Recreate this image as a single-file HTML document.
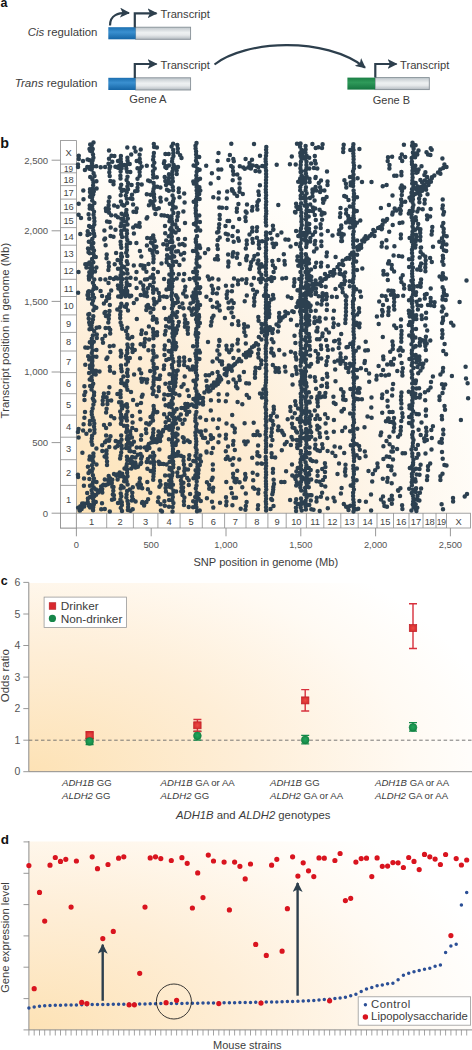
<!DOCTYPE html><html><head><meta charset="utf-8"><style>html,body{margin:0;padding:0;background:#fff;width:472px;height:1050px;overflow:hidden}svg{display:block}</style></head><body><svg width="472" height="1050" viewBox="0 0 472 1050" font-family="'Liberation Sans', sans-serif"><defs>
<linearGradient id="gbar" x1="0" y1="0" x2="0" y2="1"><stop offset="0" stop-color="#bfc6cb"/><stop offset="0.45" stop-color="#eef1f2"/><stop offset="0.65" stop-color="#e6e9eb"/><stop offset="1" stop-color="#b3bac0"/></linearGradient>
<linearGradient id="bbar" x1="0" y1="0" x2="0" y2="1"><stop offset="0" stop-color="#1c6fb0"/><stop offset="0.4" stop-color="#3a90d0"/><stop offset="1" stop-color="#1565a5"/></linearGradient>
<linearGradient id="grbar" x1="0" y1="0" x2="0" y2="1"><stop offset="0" stop-color="#1b7f45"/><stop offset="0.4" stop-color="#2f9a5a"/><stop offset="1" stop-color="#157540"/></linearGradient>
<radialGradient id="bgb" gradientUnits="userSpaceOnUse" cx="76" cy="513" r="430" gradientTransform="translate(76,513) scale(1,0.82) translate(-76,-513)"><stop offset="0" stop-color="#fde3b7"/><stop offset="0.4" stop-color="#fdebd1"/><stop offset="0.75" stop-color="#fef7ed"/><stop offset="1" stop-color="#fffefb"/></radialGradient>
<radialGradient id="bgc" gradientUnits="userSpaceOnUse" cx="29" cy="772" r="480" gradientTransform="translate(29,772) scale(1,0.56) translate(-29,-772)"><stop offset="0" stop-color="#fde2b5"/><stop offset="0.45" stop-color="#feeed7"/><stop offset="0.8" stop-color="#fffaf3"/><stop offset="1" stop-color="#ffffff"/></radialGradient>
<radialGradient id="bgd" gradientUnits="userSpaceOnUse" cx="29" cy="1030" r="480" gradientTransform="translate(29,1030) scale(1,0.56) translate(-29,-1030)"><stop offset="0" stop-color="#fde2b5"/><stop offset="0.45" stop-color="#feeed7"/><stop offset="0.8" stop-color="#fffaf3"/><stop offset="1" stop-color="#ffffff"/></radialGradient>
<marker id="ah" viewBox="0 0 10 10" refX="9" refY="5" markerWidth="10" markerHeight="10" markerUnits="userSpaceOnUse" orient="auto"><path d="M0,0 L10,5 L0,10 L2.5,5 z" fill="#2d3f4d"/></marker>
<marker id="ah2" viewBox="0 0 10 10" refX="9" refY="5" markerWidth="10" markerHeight="10" markerUnits="userSpaceOnUse" orient="auto"><path d="M0,0 L10,5 L0,10 L2.5,5 z" fill="#2d3f4d"/></marker>
<radialGradient id="rg" cx="0.5" cy="0.5" r="0.6"><stop offset="0" stop-color="#ec4a44"/><stop offset="1" stop-color="#d22a2c"/></radialGradient>
<radialGradient id="gg" cx="0.5" cy="0.45" r="0.6"><stop offset="0" stop-color="#22a45c"/><stop offset="1" stop-color="#128643"/></radialGradient>
</defs><rect width="472" height="1050" fill="#fff"/><text x="0.5" y="6.7" font-size="12.5" font-weight="bold" fill="#111">a</text><text x="97.4" y="35.6" font-size="11.4" text-anchor="end" fill="#3c3c3c"><tspan font-style="italic">Cis</tspan> regulation</text><text x="97.4" y="87" font-size="11.55" text-anchor="end" fill="#3c3c3c"><tspan font-style="italic">Trans</tspan> regulation</text><rect x="135.6" y="27.2" width="55.0" height="12.099999999999998" fill="url(#gbar)" stroke="#858f96" stroke-width="0.9"/><rect x="108.3" y="27.2" width="27.299999999999997" height="12.099999999999998" fill="url(#bbar)"/><rect x="135.6" y="77.8" width="55.0" height="12.200000000000003" fill="url(#gbar)" stroke="#858f96" stroke-width="0.9"/><rect x="108.3" y="77.8" width="27.299999999999997" height="12.200000000000003" fill="url(#bbar)"/><rect x="375.1" y="77.6" width="54.19999999999999" height="12.0" fill="url(#gbar)" stroke="#858f96" stroke-width="0.9"/><rect x="347.4" y="77.6" width="27.700000000000045" height="12.0" fill="url(#grbar)"/><path d="M110,25.5 C110,15 118,12.5 129,13" fill="none" stroke="#2d3f4d" stroke-width="2.2" marker-end="url(#ah)"/><path d="M134.8,27.5 V13.3 H156.5" fill="none" stroke="#2d3f4d" stroke-width="2.2" marker-end="url(#ah)"/><path d="M134.8,78 V64 H156.5" fill="none" stroke="#2d3f4d" stroke-width="2.2" marker-end="url(#ah)"/><path d="M375.3,77.6 V64 H396.5" fill="none" stroke="#2d3f4d" stroke-width="2.2" marker-end="url(#ah)"/><path d="M214.5,64.5 C245,40.5 325,36 365,67.6" fill="none" stroke="#2d3f4d" stroke-width="2.2" marker-end="url(#ah)"/><text x="160.5" y="18.1" font-size="11.2" fill="#3c3c3c">Transcript</text><text x="160.5" y="69.2" font-size="11.2" fill="#3c3c3c">Transcript</text><text x="400" y="69.2" font-size="11.2" fill="#3c3c3c">Transcript</text><text x="147.9" y="103" font-size="11.2" text-anchor="middle" fill="#3c3c3c">Gene A</text><text x="391.4" y="103.8" font-size="11" text-anchor="middle" fill="#3c3c3c">Gene B</text><text x="0.3" y="147.5" font-size="14.3" font-weight="bold" fill="#111">b</text><rect x="76.4" y="140.6" width="394.1" height="372.6" fill="url(#bgb)"/><rect x="60.5" y="140.6" width="15.9" height="387.4" fill="#fff" stroke="#8c8c8c" stroke-width="0.8"/><rect x="60.5" y="513.2" width="410" height="14.8" fill="#fff" stroke="#8c8c8c" stroke-width="0.8"/><line x1="60.5" x2="76.4" y1="485.4" y2="485.4" stroke="#8c8c8c" stroke-width="0.8"/><line x1="60.5" x2="76.4" y1="459.7" y2="459.7" stroke="#8c8c8c" stroke-width="0.8"/><line x1="60.5" x2="76.4" y1="437.2" y2="437.2" stroke="#8c8c8c" stroke-width="0.8"/><line x1="60.5" x2="76.4" y1="415.2" y2="415.2" stroke="#8c8c8c" stroke-width="0.8"/><line x1="60.5" x2="76.4" y1="393.7" y2="393.7" stroke="#8c8c8c" stroke-width="0.8"/><line x1="60.5" x2="76.4" y1="372.6" y2="372.6" stroke="#8c8c8c" stroke-width="0.8"/><line x1="60.5" x2="76.4" y1="351.0" y2="351.0" stroke="#8c8c8c" stroke-width="0.8"/><line x1="60.5" x2="76.4" y1="332.4" y2="332.4" stroke="#8c8c8c" stroke-width="0.8"/><line x1="60.5" x2="76.4" y1="314.9" y2="314.9" stroke="#8c8c8c" stroke-width="0.8"/><line x1="60.5" x2="76.4" y1="296.5" y2="296.5" stroke="#8c8c8c" stroke-width="0.8"/><line x1="60.5" x2="76.4" y1="279.3" y2="279.3" stroke="#8c8c8c" stroke-width="0.8"/><line x1="60.5" x2="76.4" y1="262.2" y2="262.2" stroke="#8c8c8c" stroke-width="0.8"/><line x1="60.5" x2="76.4" y1="245.2" y2="245.2" stroke="#8c8c8c" stroke-width="0.8"/><line x1="60.5" x2="76.4" y1="227.6" y2="227.6" stroke="#8c8c8c" stroke-width="0.8"/><line x1="60.5" x2="76.4" y1="212.9" y2="212.9" stroke="#8c8c8c" stroke-width="0.8"/><line x1="60.5" x2="76.4" y1="199.1" y2="199.1" stroke="#8c8c8c" stroke-width="0.8"/><line x1="60.5" x2="76.4" y1="185.6" y2="185.6" stroke="#8c8c8c" stroke-width="0.8"/><line x1="60.5" x2="76.4" y1="172.8" y2="172.8" stroke="#8c8c8c" stroke-width="0.8"/><line x1="60.5" x2="76.4" y1="164.1" y2="164.1" stroke="#8c8c8c" stroke-width="0.8"/><line x1="106.7" x2="106.7" y1="513.2" y2="528" stroke="#8c8c8c" stroke-width="0.8"/><line x1="133.4" x2="133.4" y1="513.2" y2="528" stroke="#8c8c8c" stroke-width="0.8"/><line x1="157.9" x2="157.9" y1="513.2" y2="528" stroke="#8c8c8c" stroke-width="0.8"/><line x1="180.1" x2="180.1" y1="513.2" y2="528" stroke="#8c8c8c" stroke-width="0.8"/><line x1="202.3" x2="202.3" y1="513.2" y2="528" stroke="#8c8c8c" stroke-width="0.8"/><line x1="224.6" x2="224.6" y1="513.2" y2="528" stroke="#8c8c8c" stroke-width="0.8"/><line x1="246" x2="246" y1="513.2" y2="528" stroke="#8c8c8c" stroke-width="0.8"/><line x1="267.9" x2="267.9" y1="513.2" y2="528" stroke="#8c8c8c" stroke-width="0.8"/><line x1="286.2" x2="286.2" y1="513.2" y2="528" stroke="#8c8c8c" stroke-width="0.8"/><line x1="306.4" x2="306.4" y1="513.2" y2="528" stroke="#8c8c8c" stroke-width="0.8"/><line x1="323.8" x2="323.8" y1="513.2" y2="528" stroke="#8c8c8c" stroke-width="0.8"/><line x1="340.8" x2="340.8" y1="513.2" y2="528" stroke="#8c8c8c" stroke-width="0.8"/><line x1="358.2" x2="358.2" y1="513.2" y2="528" stroke="#8c8c8c" stroke-width="0.8"/><line x1="377" x2="377" y1="513.2" y2="528" stroke="#8c8c8c" stroke-width="0.8"/><line x1="393.5" x2="393.5" y1="513.2" y2="528" stroke="#8c8c8c" stroke-width="0.8"/><line x1="409" x2="409" y1="513.2" y2="528" stroke="#8c8c8c" stroke-width="0.8"/><line x1="423" x2="423" y1="513.2" y2="528" stroke="#8c8c8c" stroke-width="0.8"/><line x1="436" x2="436" y1="513.2" y2="528" stroke="#8c8c8c" stroke-width="0.8"/><line x1="446.5" x2="446.5" y1="513.2" y2="528" stroke="#8c8c8c" stroke-width="0.8"/><text x="68.6" y="502.9" font-size="9.3" text-anchor="middle" fill="#444">1</text><text x="91.6" y="524.6" font-size="9.3" text-anchor="middle" fill="#444" >1</text><text x="68.6" y="476.1" font-size="9.3" text-anchor="middle" fill="#444">2</text><text x="120.1" y="524.6" font-size="9.3" text-anchor="middle" fill="#444" >2</text><text x="68.6" y="452.1" font-size="9.3" text-anchor="middle" fill="#444">3</text><text x="145.7" y="524.6" font-size="9.3" text-anchor="middle" fill="#444" >3</text><text x="68.6" y="429.8" font-size="9.3" text-anchor="middle" fill="#444">4</text><text x="169.0" y="524.6" font-size="9.3" text-anchor="middle" fill="#444" >4</text><text x="68.6" y="408.1" font-size="9.3" text-anchor="middle" fill="#444">5</text><text x="191.2" y="524.6" font-size="9.3" text-anchor="middle" fill="#444" >5</text><text x="68.6" y="386.8" font-size="9.3" text-anchor="middle" fill="#444">6</text><text x="213.4" y="524.6" font-size="9.3" text-anchor="middle" fill="#444" >6</text><text x="68.6" y="365.4" font-size="9.3" text-anchor="middle" fill="#444">7</text><text x="235.3" y="524.6" font-size="9.3" text-anchor="middle" fill="#444" >7</text><text x="68.6" y="345.3" font-size="9.3" text-anchor="middle" fill="#444">8</text><text x="256.9" y="524.6" font-size="9.3" text-anchor="middle" fill="#444" >8</text><text x="68.6" y="327.2" font-size="9.3" text-anchor="middle" fill="#444">9</text><text x="277.0" y="524.6" font-size="9.3" text-anchor="middle" fill="#444" >9</text><text x="68.6" y="309.3" font-size="9.3" text-anchor="middle" fill="#444">10</text><text x="296.3" y="524.6" font-size="9.3" text-anchor="middle" fill="#444" >10</text><text x="68.6" y="291.5" font-size="9.3" text-anchor="middle" fill="#444">11</text><text x="315.1" y="524.6" font-size="9.3" text-anchor="middle" fill="#444" >11</text><text x="68.6" y="274.4" font-size="9.3" text-anchor="middle" fill="#444">12</text><text x="332.3" y="524.6" font-size="9.3" text-anchor="middle" fill="#444" >12</text><text x="68.6" y="257.3" font-size="9.3" text-anchor="middle" fill="#444">13</text><text x="349.5" y="524.6" font-size="9.3" text-anchor="middle" fill="#444" >13</text><text x="68.6" y="240.0" font-size="9.3" text-anchor="middle" fill="#444">14</text><text x="367.6" y="524.6" font-size="9.3" text-anchor="middle" fill="#444" >14</text><text x="68.6" y="223.8" font-size="9.3" text-anchor="middle" fill="#444">15</text><text x="385.2" y="524.6" font-size="9.3" text-anchor="middle" fill="#444" >15</text><text x="68.6" y="209.6" font-size="9.3" text-anchor="middle" fill="#444">16</text><text x="401.2" y="524.6" font-size="9.3" text-anchor="middle" fill="#444" >16</text><text x="68.6" y="195.9" font-size="9.3" text-anchor="middle" fill="#444">17</text><text x="416.0" y="524.6" font-size="9.3" text-anchor="middle" fill="#444" >17</text><text x="68.6" y="182.8" font-size="9.3" text-anchor="middle" fill="#444">18</text><text x="429.5" y="524.6" font-size="9.3" text-anchor="middle" fill="#444" letter-spacing="-0.4">18</text><text x="68.6" y="172.0" font-size="8.2" text-anchor="middle" fill="#444">19</text><text x="441.2" y="524.6" font-size="8.6" text-anchor="middle" fill="#444" letter-spacing="-0.4">19</text><text x="68.6" y="155.9" font-size="9.3" text-anchor="middle" fill="#444">X</text><text x="458.5" y="524.6" font-size="9.3" text-anchor="middle" fill="#444" >X</text><line x1="51.6" x2="60.5" y1="513.2" y2="513.2" stroke="#8c8c8c" stroke-width="0.9"/><text x="48.2" y="516.5" font-size="9.6" text-anchor="end" fill="#555">0</text><line x1="76.4" x2="76.4" y1="528" y2="536.3" stroke="#8c8c8c" stroke-width="0.9"/><text x="76.4" y="547.6" font-size="9.3" text-anchor="middle" fill="#555">0</text><line x1="51.6" x2="60.5" y1="442.6" y2="442.6" stroke="#8c8c8c" stroke-width="0.9"/><text x="48.2" y="445.9" font-size="9.6" text-anchor="end" fill="#555">500</text><line x1="151.2" x2="151.2" y1="528" y2="536.3" stroke="#8c8c8c" stroke-width="0.9"/><text x="151.2" y="547.6" font-size="9.3" text-anchor="middle" fill="#555">500</text><line x1="51.6" x2="60.5" y1="372.0" y2="372.0" stroke="#8c8c8c" stroke-width="0.9"/><text x="48.2" y="375.3" font-size="9.6" text-anchor="end" fill="#555">1,000</text><line x1="226.0" x2="226.0" y1="528" y2="536.3" stroke="#8c8c8c" stroke-width="0.9"/><text x="226.0" y="547.6" font-size="9.3" text-anchor="middle" fill="#555">1,000</text><line x1="51.6" x2="60.5" y1="301.4" y2="301.4" stroke="#8c8c8c" stroke-width="0.9"/><text x="48.2" y="304.7" font-size="9.6" text-anchor="end" fill="#555">1,500</text><line x1="300.8" x2="300.8" y1="528" y2="536.3" stroke="#8c8c8c" stroke-width="0.9"/><text x="300.8" y="547.6" font-size="9.3" text-anchor="middle" fill="#555">1,500</text><line x1="51.6" x2="60.5" y1="230.8" y2="230.8" stroke="#8c8c8c" stroke-width="0.9"/><text x="48.2" y="234.1" font-size="9.6" text-anchor="end" fill="#555">2,000</text><line x1="375.6" x2="375.6" y1="528" y2="536.3" stroke="#8c8c8c" stroke-width="0.9"/><text x="375.6" y="547.6" font-size="9.3" text-anchor="middle" fill="#555">2,000</text><line x1="51.6" x2="60.5" y1="160.2" y2="160.2" stroke="#8c8c8c" stroke-width="0.9"/><text x="48.2" y="163.5" font-size="9.6" text-anchor="end" fill="#555">2,500</text><line x1="450.4" x2="450.4" y1="528" y2="536.3" stroke="#8c8c8c" stroke-width="0.9"/><text x="450.4" y="547.6" font-size="9.3" text-anchor="middle" fill="#555">2,500</text><line x1="76.4" x2="76.4" y1="513.2" y2="528" stroke="#8c8c8c" stroke-width="0.9"/><text x="265.8" y="566" font-size="11.1" text-anchor="middle" fill="#3c3c3c">SNP position in genome (Mb)</text><text transform="translate(9.3,330.6) rotate(-90)" font-size="11.4" text-anchor="middle" fill="#3c3c3c">Transcript position in genome (Mb)</text><path d="M78.8 155.8h0M78.8 159.0h0M78.0 164.6h0M78.7 203.7h0M78.6 214.8h0M81.0 217.9h0M78.5 272.1h0M78.1 292.7h0M78.6 429.0h0M77.9 431.9h0M78.6 437.4h0M77.9 474.7h0M78.1 477.1h0M83.0 161.0h0M84.9 169.9h0M83.3 190.5h0M83.5 199.3h0M85.3 264.2h0M85.3 364.8h0M84.4 386.2h0M85.3 391.9h0M84.3 395.1h0M85.0 411.9h0M84.4 417.8h0M83.6 424.2h0M83.1 430.4h0M82.4 452.8h0M84.0 478.6h0M83.9 485.7h0M83.6 503.6h0M87.6 159.6h0M89.7 167.0h0M90.0 189.3h0M90.4 193.0h0M90.0 196.7h0M88.6 214.2h0M89.1 225.9h0M87.7 231.2h0M87.5 234.9h0M88.8 241.7h0M91.7 244.9h0M91.3 248.6h0M88.0 248.5h0M88.5 252.2h0M87.9 263.7h0M90.3 267.9h0M86.4 267.4h0M89.3 272.2h0M88.8 275.9h0M89.1 279.6h0M88.9 291.3h0M88.1 291.9h0M87.5 295.1h0M88.4 294.9h0M88.1 298.6h0M88.3 314.4h0M88.7 318.6h0M89.2 322.6h0M89.5 329.2h0M87.8 347.7h0M85.3 347.6h0M88.2 356.2h0M91.8 356.9h0M92.3 357.5h0M92.3 361.2h0M92.3 364.9h0M89.4 459.6h0M92.3 460.2h0M87.9 466.7h0M88.5 473.1h0M90.0 485.8h0M87.2 493.1h0M87.9 498.4h0M87.7 502.1h0M93.5 142.6h0M90.2 144.5h0M91.7 145.4h0M89.5 149.0h0M92.7 148.9h0M90.2 150.8h0M91.9 151.6h0M93.0 154.4h0M93.4 157.7h0M89.8 160.3h0M92.6 160.6h0M92.0 163.4h0M96.2 166.2h0M92.7 166.4h0M89.4 168.7h0M91.7 169.6h0M93.6 173.2h0M90.2 176.9h0M94.5 175.9h0M92.4 179.2h0M96.4 181.3h0M93.4 182.3h0M93.1 185.3h0M96.6 188.5h0M92.9 188.6h0M90.0 191.9h0M93.8 191.4h0M93.2 194.4h0M92.1 197.3h0M92.2 200.4h0M94.4 203.0h0M89.7 205.5h0M92.2 206.0h0M89.7 208.6h0M92.4 209.0h0M94.0 211.8h0M93.5 214.7h0M89.3 218.8h0M94.2 218.0h0M94.4 221.2h0M94.3 224.5h0M90.3 227.1h0M93.0 227.1h0M93.2 230.4h0M89.7 234.0h0M93.9 233.4h0M94.4 236.1h0M92.3 239.0h0M89.4 241.8h0M93.3 242.9h0M92.7 247.6h0M94.0 250.4h0M89.7 253.2h0M93.3 253.4h0M95.8 256.9h0M94.2 256.1h0M92.1 259.0h0M89.4 262.4h0M93.3 262.2h0M90.0 264.1h0M91.7 265.0h0M96.4 267.6h0M92.2 268.1h0M91.9 270.9h0M89.9 273.0h0M91.8 273.8h0M91.6 276.6h0M94.3 279.6h0M92.9 282.7h0M94.1 285.7h0M96.3 288.2h0M93.5 288.9h0M91.9 291.6h0M92.9 294.6h0M89.3 298.6h0M94.1 297.8h0M93.0 300.8h0M92.1 303.8h0M96.3 307.8h0M94.5 306.8h0M93.4 310.2h0M89.3 313.9h0M93.3 316.2h0M92.9 319.4h0M92.1 322.5h0M89.7 324.5h0M91.5 325.5h0M96.6 327.8h0M91.7 328.7h0M94.2 331.3h0M96.8 334.5h0M92.8 335.4h0M96.8 337.9h0M91.8 338.7h0M89.8 342.2h0M93.8 341.7h0M91.9 344.5h0M91.7 347.1h0M96.4 349.9h0M92.6 350.2h0M91.8 353.0h0M96.4 356.7h0M93.1 356.6h0M89.2 359.4h0M92.2 359.9h0M91.9 363.0h0M90.0 365.5h0M92.5 365.8h0M89.9 368.1h0M92.1 368.7h0M95.9 370.8h0M91.9 371.5h0M95.7 374.5h0M93.6 374.1h0M91.5 377.2h0M89.7 379.5h0M91.9 380.2h0M93.2 383.8h0M90.1 385.9h0M92.1 386.6h0M91.5 389.5h0M94.1 392.5h0M94.0 395.3h0M92.8 398.4h0M94.4 401.3h0M93.4 404.5h0M92.6 408.4h0M91.7 411.7h0M91.8 414.6h0M92.6 417.5h0M89.9 420.9h0M93.7 420.5h0M89.8 424.3h0M94.3 423.4h0M94.0 426.5h0M89.9 430.4h0M94.4 429.4h0M94.4 432.8h0M92.1 435.7h0M91.8 438.6h0M91.5 441.8h0M92.3 444.7h0M96.4 448.6h0M93.4 453.4h0M89.8 456.6h0M93.4 456.3h0M92.5 459.1h0M93.3 462.1h0M96.5 464.5h0M92.0 465.2h0M92.7 468.8h0M89.8 471.0h0M91.8 471.8h0M92.9 475.2h0M89.4 479.0h0M93.9 478.4h0M96.5 482.0h0M93.1 481.9h0M92.3 484.6h0M93.7 487.5h0M96.0 489.4h0M91.6 490.3h0M92.3 493.2h0M90.1 496.9h0M94.4 496.0h0M93.1 498.9h0M95.8 502.0h0M93.4 501.7h0M90.0 505.0h0M93.8 504.5h0M90.1 507.4h0M93.2 507.2h0M93.1 510.3h0M101.6 490.9h0M102.0 503.2h0M101.2 509.2h0M107.0 208.4h0M105.8 208.4h0M106.1 211.1h0M107.0 221.5h0M104.4 230.5h0M105.1 238.4h0M104.3 239.6h0M105.6 245.3h0M106.7 254.6h0M106.5 258.3h0M107.1 296.9h0M106.2 300.8h0M103.9 303.6h0M105.3 311.9h0M104.5 313.0h0M105.9 316.0h0M105.6 327.9h0M109.0 328.0h0M105.2 335.8h0M102.4 339.0h0M103.0 342.7h0M106.4 358.9h0M103.9 393.4h0M106.6 397.2h0M103.2 396.9h0M102.7 400.6h0M102.7 404.3h0M106.6 408.8h0M106.1 412.5h0M104.0 424.9h0M106.1 428.1h0M106.1 435.4h0M105.0 442.2h0M102.2 445.3h0M106.4 451.3h0M102.3 451.0h0M106.1 451.0h0M104.6 456.4h0M107.0 465.0h0M104.8 479.4h0M108.1 480.1h0M108.7 483.8h0M104.8 508.9h0M109.0 150.6h0M111.5 155.8h0M109.0 158.7h0M108.5 163.8h0M109.5 168.5h0M109.3 172.2h0M109.7 176.1h0M110.4 181.1h0M113.5 181.4h0M113.5 184.2h0M109.5 197.3h0M108.7 201.6h0M108.6 205.3h0M108.8 209.0h0M109.1 212.7h0M111.2 215.2h0M110.7 227.5h0M110.5 236.0h0M113.5 236.8h0M108.7 262.7h0M108.9 266.4h0M108.4 270.1h0M108.5 283.1h0M111.2 290.4h0M109.1 294.4h0M109.1 298.1h0M109.8 305.1h0M109.5 310.9h0M109.0 315.1h0M108.8 318.8h0M108.3 322.5h0M110.2 329.7h0M110.2 333.4h0M109.7 346.2h0M110.3 352.0h0M109.8 367.0h0M110.0 370.7h0M109.4 387.3h0M108.4 393.0h0M111.2 400.5h0M107.6 400.4h0M107.4 404.1h0M111.1 416.2h0M109.8 424.3h0M110.5 436.3h0M109.4 439.3h0M109.0 440.7h0M106.5 440.6h0M109.3 447.1h0M106.5 450.4h0M106.5 454.1h0M106.5 457.8h0M107.0 461.5h0M108.7 476.1h0M108.9 479.8h0M111.8 483.0h0M112.3 486.7h0M113.5 487.1h0M113.3 490.8h0M112.8 494.5h0M109.8 511.4h0M114.4 156.1h0M114.1 205.6h0M115.6 215.4h0M115.5 229.8h0M116.1 252.9h0M114.7 264.2h0M116.0 277.5h0M113.6 345.8h0M114.1 372.7h0M114.3 418.2h0M115.7 441.1h0M115.3 447.6h0M113.9 495.3h0M114.1 499.0h0M120.9 155.9h0M120.7 159.0h0M118.0 160.9h0M121.0 161.9h0M120.7 164.6h0M118.1 167.8h0M121.6 168.2h0M120.6 171.6h0M120.4 175.7h0M120.5 178.5h0M121.2 184.8h0M120.4 188.0h0M121.7 191.1h0M120.7 195.3h0M120.9 201.6h0M124.2 205.4h0M122.0 204.6h0M117.7 206.7h0M121.6 213.7h0M117.9 217.3h0M121.3 218.7h0M121.4 223.2h0M124.4 225.9h0M120.6 226.3h0M124.2 229.5h0M121.3 230.9h0M121.3 234.2h0M122.1 236.9h0M120.6 241.8h0M120.8 244.8h0M121.3 247.8h0M121.3 253.7h0M121.9 256.8h0M117.6 259.9h0M121.0 259.9h0M120.8 263.1h0M124.2 266.9h0M121.9 266.1h0M118.0 268.8h0M120.8 269.0h0M121.4 272.0h0M120.6 275.2h0M120.4 278.4h0M121.2 282.3h0M117.9 285.6h0M121.5 285.2h0M118.4 288.6h0M121.4 288.1h0M124.5 291.1h0M120.9 291.2h0M124.3 294.6h0M121.5 294.2h0M120.9 297.1h0M121.3 303.8h0M124.7 306.6h0M120.3 307.1h0M117.3 309.5h0M120.5 311.5h0M120.2 314.8h0M120.2 318.0h0M120.6 322.5h0M121.6 325.6h0M122.2 328.7h0M120.7 350.7h0M121.4 353.4h0M120.8 356.4h0M121.0 365.6h0M121.2 368.5h0M121.7 371.2h0M121.3 380.0h0M121.2 383.0h0M124.6 385.3h0M120.6 391.0h0M117.4 393.9h0M120.5 394.3h0M120.6 397.3h0M121.5 402.3h0M124.6 405.6h0M121.6 405.8h0M122.1 408.5h0M120.2 411.6h0M121.1 414.7h0M124.6 417.6h0M120.6 418.0h0M121.5 420.7h0M120.9 423.7h0M123.9 425.8h0M121.2 435.6h0M121.5 439.8h0M118.0 442.0h0M120.3 442.6h0M117.6 446.1h0M121.6 445.7h0M121.8 448.5h0M121.2 452.5h0M120.6 455.7h0M120.1 458.5h0M121.4 485.8h0M120.7 488.4h0M120.7 493.4h0M121.3 496.2h0M120.4 499.4h0M118.0 502.9h0M121.8 502.2h0M121.9 505.1h0M120.8 507.9h0M122.0 510.9h0M127.3 147.6h0M127.4 157.7h0M127.5 160.6h0M129.7 164.0h0M127.9 163.2h0M124.3 165.1h0M126.0 165.9h0M126.4 168.7h0M130.3 171.9h0M127.2 171.7h0M127.5 176.7h0M126.6 180.1h0M128.0 183.1h0M127.4 186.5h0M123.9 190.1h0M128.0 189.3h0M126.8 192.1h0M125.8 195.4h0M130.7 198.6h0M126.8 198.7h0M127.1 202.9h0M123.5 205.4h0M126.4 210.1h0M126.1 212.7h0M124.4 215.3h0M126.9 215.3h0M123.3 219.3h0M127.8 218.6h0M123.4 221.1h0M126.1 221.8h0M127.5 224.6h0M126.8 230.5h0M127.0 233.6h0M126.4 236.9h0M127.3 239.9h0M130.1 243.1h0M126.9 244.2h0M126.7 247.1h0M126.9 249.9h0M126.2 252.7h0M127.3 256.1h0M126.8 261.2h0M127.6 264.1h0M124.1 267.2h0M126.9 269.7h0M123.5 273.6h0M127.5 273.5h0M126.7 282.5h0M129.6 284.9h0M126.8 285.1h0M126.0 287.8h0M127.2 291.0h0M127.5 294.2h0M129.7 296.4h0M126.8 304.3h0M125.9 307.1h0M128.0 310.5h0M127.4 327.8h0M126.0 331.0h0M127.4 334.7h0M127.5 337.8h0M127.4 344.5h0M127.9 347.2h0M127.1 350.2h0M127.3 353.0h0M126.0 355.9h0M129.8 358.1h0M126.4 358.6h0M127.9 361.6h0M126.0 364.4h0M127.6 369.8h0M127.1 372.7h0M123.4 376.5h0M127.7 375.9h0M127.3 381.0h0M123.7 383.4h0M126.2 384.0h0M126.5 386.8h0M127.4 389.8h0M126.8 404.3h0M127.2 407.1h0M127.5 411.6h0M126.2 414.7h0M126.5 417.4h0M126.9 420.6h0M127.2 425.9h0M127.0 429.1h0M130.2 431.5h0M126.3 432.1h0M130.3 434.3h0M127.4 436.2h0M126.8 439.1h0M130.4 443.2h0M128.1 442.2h0M126.5 445.1h0M126.1 448.1h0M130.6 451.2h0M126.9 456.8h0M130.1 459.2h0M127.2 460.0h0M126.9 464.1h0M126.4 467.0h0M127.2 469.7h0M127.1 472.8h0M123.2 476.6h0M127.5 476.2h0M124.4 478.1h0M126.2 478.8h0M124.1 481.2h0M126.6 481.6h0M127.6 484.5h0M123.6 487.6h0M127.1 491.1h0M126.6 494.4h0M126.4 497.6h0M127.5 501.0h0M128.1 503.9h0M128.1 506.9h0M130.5 510.7h0M127.9 510.0h0M131.2 154.4h0M131.6 184.9h0M132.0 194.8h0M132.4 198.9h0M133.1 204.6h0M133.5 211.8h0M133.2 227.6h0M133.9 233.6h0M133.8 265.6h0M133.8 303.1h0M132.3 337.1h0M132.4 344.7h0M132.1 348.4h0M132.6 352.1h0M133.1 400.0h0M132.2 416.1h0M132.6 422.4h0M132.3 427.9h0M131.9 437.6h0M133.9 441.8h0M132.0 444.4h0M129.4 447.4h0M129.5 451.1h0M132.2 457.1h0M132.5 462.7h0M133.1 465.7h0M135.5 467.5h0M131.3 468.5h0M132.8 487.3h0M129.8 489.6h0M132.3 492.8h0M132.1 496.4h0M133.1 499.4h0M135.6 501.6h0M132.7 509.2h0M134.4 147.7h0M135.6 151.5h0M136.7 161.1h0M135.1 191.2h0M136.7 208.4h0M136.1 212.1h0M136.4 243.1h0M136.5 272.0h0M136.6 288.0h0M136.7 299.3h0M134.8 350.0h0M137.1 404.7h0M136.1 430.1h0M136.7 447.4h0M135.2 462.4h0M140.7 149.6h0M139.6 154.8h0M139.7 158.9h0M140.2 162.6h0M141.7 166.6h0M140.2 168.2h0M137.5 168.2h0M139.6 172.0h0M139.7 175.7h0M137.5 178.7h0M141.7 184.6h0M137.8 184.1h0M137.5 187.8h0M137.5 190.7h0M139.5 223.1h0M139.7 226.8h0M137.5 226.2h0M139.9 250.9h0M141.3 256.5h0M142.3 265.6h0M144.5 266.0h0M140.6 265.3h0M143.4 268.5h0M144.5 268.6h0M140.5 282.4h0M143.3 285.5h0M143.5 289.2h0M144.5 291.9h0M144.3 295.6h0M141.8 330.4h0M141.3 334.1h0M140.6 344.3h0M140.1 358.2h0M139.5 369.6h0M141.2 373.3h0M141.2 378.7h0M141.8 381.7h0M141.8 396.7h0M141.0 403.0h0M139.9 411.8h0M140.5 419.3h0M141.3 435.3h0M141.0 439.7h0M140.5 447.6h0M141.9 456.4h0M141.2 462.7h0M140.4 463.9h0M137.9 466.8h0M139.9 478.5h0M139.5 482.2h0M137.5 484.7h0M140.9 484.8h0M138.7 487.4h0M142.2 488.2h0M142.4 501.9h0M142.0 502.9h0M144.1 505.5h0M148.9 205.2h0M146.6 218.4h0M147.2 237.9h0M146.9 245.5h0M148.5 263.9h0M146.4 271.8h0M147.1 279.3h0M147.9 288.2h0M146.5 292.3h0M147.0 296.3h0M148.0 305.0h0M146.6 306.3h0M146.3 310.0h0M148.9 326.4h0M146.0 333.2h0M149.1 339.6h0M145.0 338.9h0M144.6 342.6h0M144.1 346.3h0M147.2 379.5h0M144.0 379.3h0M146.7 382.4h0M146.2 423.2h0M149.0 424.5h0M145.9 429.3h0M146.3 433.0h0M147.8 458.9h0M146.7 462.1h0M147.4 468.7h0M150.7 470.9h0M147.3 482.0h0M147.9 489.2h0M150.3 492.7h0M148.1 499.2h0M146.4 502.0h0M144.1 504.1h0M153.8 143.9h0M156.9 147.5h0M154.1 146.9h0M153.9 152.9h0M153.5 156.6h0M153.1 159.7h0M154.3 162.7h0M153.0 165.8h0M154.7 168.4h0M153.0 171.2h0M153.1 174.4h0M156.8 177.2h0M153.3 177.4h0M150.0 181.3h0M153.6 182.9h0M157.2 186.8h0M154.3 186.2h0M153.6 188.9h0M153.2 191.6h0M150.6 194.7h0M154.0 194.3h0M154.1 197.6h0M150.4 201.3h0M154.5 200.5h0M152.7 203.2h0M153.5 205.8h0M156.2 209.2h0M154.3 208.5h0M153.2 235.5h0M150.8 238.2h0M153.5 238.2h0M154.7 241.0h0M150.9 242.6h0M152.3 243.6h0M156.3 246.7h0M154.0 246.3h0M150.0 249.8h0M154.0 249.7h0M157.1 252.2h0M152.6 253.0h0M153.4 255.9h0M153.6 259.0h0M153.3 262.2h0M153.5 269.1h0M152.9 274.8h0M150.4 277.4h0M153.3 278.3h0M153.7 282.2h0M150.0 284.9h0M152.9 287.0h0M156.6 289.6h0M153.1 289.9h0M153.2 292.8h0M153.7 298.8h0M156.5 302.4h0M154.4 301.6h0M154.3 304.4h0M149.9 307.8h0M153.4 308.9h0M150.6 312.4h0M153.2 316.8h0M156.4 319.2h0M153.1 319.5h0M156.9 322.6h0M153.0 329.1h0M157.1 332.2h0M153.3 332.3h0M157.0 335.3h0M153.4 335.5h0M153.4 338.2h0M153.5 346.0h0M153.0 350.6h0M153.5 353.3h0M156.6 356.5h0M153.7 357.4h0M152.5 360.6h0M153.6 364.0h0M156.9 368.0h0M153.7 367.3h0M150.2 370.9h0M154.2 370.3h0M154.5 373.1h0M153.6 376.4h0M153.9 379.2h0M153.5 381.9h0M153.6 385.0h0M152.3 388.1h0M153.6 391.0h0M152.8 393.9h0M156.6 396.3h0M153.6 406.0h0M154.0 409.3h0M156.8 412.3h0M153.5 412.4h0M152.7 415.0h0M150.5 416.9h0M152.4 417.9h0M153.0 420.6h0M150.5 422.7h0M153.4 429.3h0M153.2 432.8h0M152.9 435.7h0M156.8 439.2h0M153.4 439.1h0M156.7 442.2h0M153.7 442.0h0M153.1 452.8h0M150.3 456.4h0M154.3 455.7h0M153.3 459.1h0M150.4 462.6h0M154.3 461.9h0M153.9 465.0h0M153.9 468.2h0M153.9 470.9h0M153.6 473.7h0M153.4 476.6h0M153.2 479.7h0M160.4 197.7h0M160.8 201.4h0M158.8 208.2h0M161.5 215.2h0M161.5 263.4h0M158.8 293.0h0M159.4 300.0h0M160.1 375.4h0M157.2 378.7h0M159.6 379.1h0M158.8 387.3h0M158.8 391.0h0M161.4 435.7h0M160.2 441.0h0M159.4 449.5h0M158.7 461.7h0M159.3 464.0h0M161.1 463.7h0M163.5 464.1h0M160.1 481.1h0M160.6 484.8h0M158.5 497.4h0M160.6 504.2h0M160.9 510.5h0M165.4 153.9h0M163.9 163.2h0M166.5 166.2h0M164.7 177.1h0M165.3 181.1h0M166.0 184.9h0M167.0 189.8h0M166.4 199.5h0M164.2 215.4h0M167.5 215.9h0M165.0 225.9h0M165.2 233.3h0M166.2 240.6h0M167.0 245.1h0M167.0 249.2h0M167.1 255.3h0M166.8 259.0h0M166.6 262.3h0M169.0 265.1h0M166.5 289.4h0M166.8 296.9h0M164.2 308.0h0M165.8 319.1h0M166.1 326.3h0M165.6 330.9h0M164.9 334.6h0M164.8 345.6h0M164.5 349.3h0M164.5 355.1h0M166.3 360.1h0M164.1 365.4h0M163.8 369.1h0M165.4 383.7h0M164.3 394.5h0M168.1 395.0h0M164.1 399.3h0M165.6 405.3h0M164.1 414.2h0M167.1 417.5h0M165.6 422.3h0M165.8 426.8h0M163.2 429.9h0M166.6 464.4h0M165.1 475.5h0M165.8 484.2h0M165.6 487.9h0M165.9 491.6h0M164.4 501.2h0M164.8 505.8h0M162.0 511.5h0M173.1 143.7h0M171.6 146.6h0M173.2 150.0h0M168.7 153.9h0M173.3 153.3h0M173.4 156.0h0M172.4 158.7h0M172.0 161.5h0M173.5 164.8h0M176.1 169.0h0M173.0 168.3h0M172.4 171.5h0M169.0 174.3h0M172.1 174.6h0M168.7 178.0h0M172.5 177.9h0M168.8 181.5h0M172.8 181.2h0M169.8 183.2h0M171.6 183.9h0M172.8 187.0h0M168.8 190.7h0M173.1 190.3h0M172.5 195.6h0M173.7 198.5h0M173.0 201.2h0M169.8 203.8h0M172.4 203.9h0M175.7 207.4h0M173.2 206.8h0M172.3 209.8h0M173.4 213.0h0M171.5 216.2h0M169.9 218.1h0M171.6 218.8h0M169.4 221.3h0M172.0 221.7h0M175.3 224.4h0M172.4 224.4h0M171.3 227.7h0M172.8 230.6h0M175.6 232.6h0M171.4 233.5h0M168.7 236.2h0M171.8 236.8h0M171.6 239.4h0M169.8 241.9h0M172.3 242.0h0M172.1 246.7h0M169.8 248.8h0M171.8 249.3h0M176.0 251.6h0M171.4 252.5h0M172.7 255.6h0M169.6 257.4h0M171.3 258.3h0M176.2 261.8h0M172.7 261.6h0M172.9 265.2h0M171.3 268.1h0M171.7 270.8h0M169.4 274.5h0M173.0 273.7h0M171.6 276.9h0M169.1 280.6h0M173.2 280.0h0M168.9 282.5h0M172.0 283.3h0M169.0 286.3h0M172.3 286.4h0M169.1 288.7h0M171.5 289.5h0M172.0 293.0h0M175.9 295.2h0M171.3 296.1h0M172.0 299.4h0M175.9 302.9h0M173.0 302.5h0M173.1 305.7h0M171.9 308.6h0M172.8 312.4h0M171.8 315.6h0M169.7 317.6h0M171.6 318.3h0M169.0 321.4h0M172.5 321.4h0M172.6 324.4h0M169.3 327.4h0M172.5 327.4h0M173.0 330.0h0M176.1 333.1h0M172.4 333.2h0M172.7 336.7h0M168.9 340.8h0M173.6 339.9h0M175.8 342.9h0M172.4 343.3h0M176.3 346.7h0M172.7 346.6h0M175.3 349.3h0M172.2 349.4h0M169.4 351.6h0M171.6 352.3h0M171.8 355.6h0M168.9 358.9h0M172.6 358.8h0M173.4 361.7h0M171.9 365.0h0M172.2 367.8h0M173.6 370.8h0M169.4 374.2h0M172.6 373.9h0M172.8 377.2h0M172.8 380.4h0M169.7 383.1h0M172.5 383.1h0M169.0 387.2h0M173.7 386.2h0M169.9 389.6h0M173.5 388.8h0M173.2 392.0h0M175.4 393.8h0M171.3 394.7h0M172.9 397.9h0M171.7 401.0h0M169.3 404.1h0M172.7 404.0h0M168.8 406.6h0M171.6 407.3h0M173.7 410.5h0M169.6 413.8h0M173.2 413.3h0M172.2 416.0h0M169.0 420.0h0M173.6 419.1h0M172.9 427.8h0M172.3 430.5h0M176.0 433.6h0M172.4 433.7h0M175.5 436.8h0M172.9 436.5h0M168.9 439.3h0M172.0 439.7h0M176.0 442.4h0M172.1 442.8h0M175.7 445.1h0M172.6 445.8h0M173.0 449.0h0M172.9 451.6h0M175.4 454.2h0M172.6 454.8h0M169.6 457.3h0M172.2 458.7h0M169.6 461.9h0M173.1 461.5h0M173.3 464.6h0M169.8 467.8h0M173.2 467.3h0M169.5 469.2h0M171.4 470.1h0M172.6 472.7h0M169.1 475.4h0M172.0 475.8h0M171.2 478.6h0M169.2 480.7h0M171.4 481.6h0M169.5 484.7h0M172.9 484.8h0M169.5 486.7h0M171.3 487.6h0M176.1 491.5h0M173.4 490.8h0M168.9 494.4h0M172.5 494.3h0M172.8 497.1h0M169.1 500.1h0M172.3 500.2h0M173.4 502.9h0M169.0 506.8h0M172.7 506.9h0M172.5 511.6h0M177.3 144.9h0M177.8 148.6h0M177.8 152.3h0M180.2 155.2h0M181.5 157.9h0M178.0 167.0h0M176.7 170.3h0M176.7 174.0h0M178.8 188.4h0M178.7 192.1h0M179.5 197.2h0M178.2 212.9h0M177.6 216.6h0M176.9 220.3h0M176.8 227.4h0M178.8 230.1h0M178.2 239.1h0M179.5 244.6h0M178.0 251.3h0M180.9 254.5h0M178.8 274.3h0M176.7 278.6h0M177.6 298.3h0M177.9 302.0h0M179.6 306.9h0M176.6 316.9h0M178.1 325.7h0M175.6 328.6h0M176.9 329.8h0M174.8 332.4h0M174.5 335.3h0M179.2 357.7h0M179.5 361.4h0M178.6 361.6h0M179.0 365.3h0M177.7 370.4h0M176.5 371.3h0M176.1 375.0h0M175.8 378.7h0M175.5 382.4h0M175.2 386.1h0M176.7 409.1h0M174.5 411.8h0M177.9 428.5h0M177.5 434.4h0M178.1 451.9h0M177.5 455.6h0M180.9 455.8h0M178.8 468.2h0M177.3 472.5h0M177.8 476.2h0M181.4 476.7h0M180.9 480.4h0M181.4 484.1h0M181.5 487.8h0M181.2 491.5h0M184.6 202.5h0M183.4 211.5h0M185.0 223.1h0M185.0 238.9h0M182.7 244.0h0M184.6 245.2h0M184.2 252.9h0M183.6 259.6h0M184.2 274.0h0M183.4 280.3h0M185.3 286.8h0M184.8 290.5h0M183.2 293.6h0M185.8 296.5h0M182.4 303.4h0M183.4 308.2h0M184.4 315.6h0M185.2 319.4h0M184.9 323.1h0M184.9 326.8h0M184.1 357.6h0M184.3 361.3h0M184.1 365.0h0M184.7 376.4h0M183.6 384.2h0M181.5 386.8h0M185.3 403.9h0M183.9 408.1h0M184.6 419.8h0M182.6 423.8h0M182.8 437.2h0M183.7 438.1h0M183.9 442.0h0M183.5 457.0h0M183.5 460.7h0M183.9 464.4h0M184.7 468.3h0M184.3 471.1h0M184.5 474.8h0M187.2 477.9h0M183.4 482.7h0M183.1 487.6h0M183.0 491.3h0M182.5 495.0h0M184.4 497.5h0M183.9 501.2h0M184.0 504.9h0M190.5 303.4h0M189.2 308.3h0M191.6 311.1h0M192.1 314.8h0M187.5 322.9h0M187.9 327.4h0M187.6 330.0h0M187.9 333.7h0M189.7 360.1h0M187.8 367.3h0M190.0 369.5h0M192.5 369.6h0M187.5 390.3h0M188.9 396.0h0M189.3 411.8h0M186.8 414.6h0M187.6 440.5h0M189.3 455.3h0M189.0 459.0h0M190.5 464.9h0M188.0 469.6h0M188.7 480.3h0M188.8 485.1h0M190.1 493.9h0M188.7 507.0h0M196.5 143.0h0M195.5 145.7h0M195.6 148.4h0M196.1 151.5h0M196.1 154.5h0M199.2 157.0h0M196.4 157.6h0M196.0 160.7h0M197.2 163.3h0M193.6 165.4h0M195.6 166.1h0M199.6 169.8h0M197.4 169.0h0M196.7 171.8h0M196.3 175.6h0M200.0 178.7h0M196.4 178.8h0M193.3 181.4h0M196.1 181.7h0M193.8 183.4h0M196.5 184.4h0M199.4 187.2h0M196.6 187.1h0M200.3 190.5h0M196.6 190.4h0M199.2 194.0h0M197.0 193.4h0M197.0 196.5h0M199.6 199.0h0M196.0 199.4h0M193.7 201.8h0M196.1 202.1h0M196.1 205.2h0M195.6 207.9h0M195.9 210.6h0M195.7 213.3h0M199.3 215.6h0M196.1 216.0h0M196.6 219.1h0M199.9 221.9h0M196.2 222.2h0M193.9 224.1h0M195.7 224.8h0M197.6 227.5h0M200.2 230.4h0M196.1 230.8h0M197.0 236.3h0M195.8 239.3h0M195.8 242.0h0M199.4 245.6h0M196.8 244.9h0M200.1 248.1h0M196.5 248.1h0M193.0 251.1h0M196.4 251.3h0M197.5 253.8h0M199.7 257.4h0M197.3 256.8h0M196.7 259.6h0M196.5 262.9h0M199.3 266.5h0M197.6 265.6h0M195.6 268.6h0M193.2 272.1h0M197.0 271.7h0M196.7 274.6h0M196.5 277.2h0M195.4 280.4h0M196.9 283.4h0M200.2 287.3h0M197.3 286.6h0M199.3 288.5h0M195.5 289.3h0M193.6 292.5h0M196.6 292.4h0M193.1 296.2h0M196.1 295.7h0M193.3 298.7h0M196.5 298.7h0M197.6 301.7h0M196.9 305.2h0M193.6 308.6h0M197.3 307.9h0M196.7 311.0h0M195.4 314.1h0M199.1 316.9h0M196.8 316.7h0M196.1 319.6h0M199.9 323.0h0M197.0 322.6h0M197.7 325.9h0M196.3 328.9h0M196.1 331.7h0M195.6 334.5h0M197.6 337.2h0M197.0 340.0h0M197.1 342.9h0M193.1 346.3h0M197.0 345.9h0M196.4 350.3h0M199.9 352.4h0M195.4 353.4h0M195.9 356.3h0M199.4 359.0h0M196.3 359.1h0M196.5 362.4h0M192.8 366.4h0M196.2 366.2h0M196.1 369.5h0M195.9 372.6h0M197.0 375.6h0M196.8 378.9h0M193.5 380.8h0M195.3 381.8h0M196.0 385.0h0M195.3 388.2h0M196.5 391.2h0M196.9 394.6h0M197.1 397.8h0M195.4 400.7h0M199.3 403.4h0M196.5 403.4h0M196.4 406.9h0M196.4 412.1h0M195.6 414.9h0M200.2 417.4h0M195.5 418.2h0M195.3 420.9h0M196.6 424.0h0M195.9 426.7h0M196.5 429.7h0M199.6 431.7h0M195.4 432.6h0M195.6 435.5h0M196.0 438.8h0M196.3 441.5h0M196.2 444.5h0M195.7 447.3h0M196.6 449.9h0M196.5 452.8h0M195.5 455.7h0M199.7 459.1h0M197.0 458.6h0M193.3 461.0h0M195.7 461.6h0M199.4 465.2h0M197.6 464.4h0M197.4 467.0h0M195.6 470.3h0M196.6 473.0h0M195.3 475.6h0M193.5 478.3h0M196.4 478.4h0M196.7 481.4h0M196.5 485.5h0M195.8 488.6h0M196.5 492.6h0M196.3 495.7h0M197.5 498.4h0M193.2 501.2h0M196.3 501.4h0M195.9 504.2h0M193.1 507.2h0M196.4 507.3h0M197.0 511.2h0M199.8 292.9h0M200.0 305.1h0M198.2 308.6h0M198.9 314.9h0M198.5 319.3h0M198.4 326.2h0M198.3 333.2h0M196.0 332.5h0M196.4 336.2h0M199.0 350.4h0M196.4 353.3h0M196.3 357.0h0M200.1 398.0h0M203.0 398.1h0M203.0 401.8h0M203.0 404.6h0M201.0 431.4h0M201.6 435.1h0M203.0 437.8h0M200.4 455.5h0M200.9 461.4h0M199.8 465.1h0M198.6 469.9h0M198.2 473.6h0M198.0 477.3h0M198.9 493.9h0M198.5 498.4h0M200.8 501.1h0M199.7 510.4h0M208.0 341.9h0M205.7 375.2h0M209.1 375.2h0M206.4 380.7h0M206.1 420.1h0M205.6 430.6h0M205.0 438.1h0M207.8 442.4h0M206.4 451.6h0M206.6 452.4h0M206.9 482.3h0M209.1 485.0h0M209.2 488.7h0M206.9 498.2h0M211.9 173.3h0M210.7 183.6h0M213.3 197.2h0M212.3 278.4h0M211.7 285.8h0M213.0 289.3h0M212.7 293.0h0M210.6 300.0h0M212.7 306.7h0M213.5 315.8h0M212.1 317.9h0M211.5 321.7h0M210.9 325.4h0M212.6 361.5h0M212.3 373.2h0M210.9 400.2h0M210.8 410.6h0M213.0 419.4h0M210.7 435.2h0M211.1 438.9h0M213.0 447.9h0M211.5 453.1h0M212.8 464.5h0M212.6 477.7h0M211.6 480.1h0M213.2 487.8h0M212.8 491.5h0M212.0 501.7h0M213.3 507.6h0M218.5 153.1h0M217.6 160.9h0M218.4 169.4h0M218.5 178.0h0M218.9 192.5h0M218.5 198.4h0M219.3 207.5h0M222.0 207.7h0M219.7 215.1h0M219.7 219.0h0M219.2 224.3h0M218.9 228.0h0M218.4 231.7h0M219.7 237.4h0M217.7 239.9h0M217.3 245.2h0M217.8 249.1h0M217.4 255.9h0M218.0 259.6h0M215.0 259.2h0M218.3 288.2h0M216.9 293.4h0M217.1 302.4h0M216.9 307.4h0M219.8 310.6h0M219.3 340.0h0M219.5 340.9h0M218.8 345.8h0M217.4 350.4h0M219.4 354.5h0M217.1 358.5h0M219.9 361.3h0M222.0 361.5h0M222.0 364.5h0M217.6 372.0h0M218.8 375.7h0M218.6 394.3h0M218.8 400.7h0M219.0 419.5h0M217.7 427.9h0M219.4 435.6h0M218.4 442.3h0M220.0 502.8h0M227.2 191.5h0M226.8 198.4h0M226.5 207.9h0M227.5 220.9h0M225.5 226.0h0M225.7 233.7h0M227.9 234.6h0M227.8 239.8h0M228.1 254.5h0M228.4 261.5h0M228.5 262.7h0M228.2 266.4h0M225.9 285.8h0M227.5 291.5h0M226.7 294.4h0M226.8 298.1h0M228.5 302.5h0M228.6 308.2h0M226.4 345.7h0M226.8 349.4h0M229.2 352.2h0M226.1 368.5h0M226.4 373.6h0M228.3 382.2h0M227.2 394.6h0M225.8 401.2h0M226.5 423.5h0M226.0 434.7h0M225.8 438.4h0M228.0 446.4h0M225.8 451.2h0M227.5 456.8h0M230.0 459.7h0M225.8 459.0h0M226.3 481.9h0M226.0 497.2h0M226.5 501.5h0M226.2 505.2h0M231.3 143.7h0M233.3 159.1h0M233.8 161.2h0M232.7 167.3h0M233.0 171.0h0M232.7 180.3h0M231.9 189.2h0M232.2 190.8h0M234.4 193.5h0M233.0 226.9h0M232.4 235.9h0M233.7 241.8h0M233.3 252.2h0M232.8 253.6h0M232.6 256.5h0M232.4 285.7h0M231.9 291.3h0M231.6 300.5h0M233.7 303.1h0M232.2 307.7h0M231.5 312.6h0M233.3 317.0h0M232.0 324.3h0M232.2 345.5h0M231.4 349.8h0M233.4 357.9h0M231.7 367.0h0M231.8 370.7h0M233.5 379.5h0M236.0 382.7h0M236.0 386.4h0M232.2 414.9h0M232.4 425.8h0M234.8 428.6h0M234.7 432.3h0M233.4 441.1h0M233.1 444.8h0M233.4 458.2h0M232.6 464.7h0M233.1 473.8h0M233.3 477.5h0M231.0 488.1h0M231.9 493.2h0M233.6 497.7h0M236.0 497.8h0M232.4 505.2h0M237.3 174.4h0M239.6 178.5h0M239.5 183.4h0M239.6 188.2h0M239.5 191.7h0M237.1 196.0h0M238.4 203.9h0M236.9 208.4h0M236.8 211.8h0M239.2 219.0h0M237.8 231.3h0M238.0 238.3h0M238.8 240.7h0M237.5 253.7h0M236.9 257.8h0M239.6 263.9h0M238.0 280.6h0M238.0 284.3h0M238.2 321.3h0M238.5 325.0h0M237.9 339.8h0M237.5 343.5h0M239.3 376.4h0M239.7 380.1h0M237.4 388.3h0M237.6 402.0h0M239.3 459.5h0M237.2 470.7h0M236.6 479.0h0M239.6 482.3h0M235.6 482.3h0M234.5 481.5h0M245.6 159.1h0M247.0 204.4h0M245.7 211.5h0M246.6 212.8h0M245.4 217.3h0M245.7 221.0h0M246.7 240.6h0M246.8 244.3h0M247.0 255.9h0M246.4 260.2h0M246.5 279.2h0M246.2 282.9h0M244.7 301.2h0M244.1 324.2h0M244.2 327.9h0M244.3 331.9h0M245.6 335.7h0M245.8 343.6h0M246.2 383.3h0M249.0 383.6h0M246.7 395.0h0M249.0 397.7h0M244.6 423.2h0M244.2 441.5h0M247.7 441.5h0M245.5 444.2h0M245.2 473.9h0M245.7 477.6h0M245.8 493.4h0M246.6 501.9h0M245.8 506.0h0M245.4 509.7h0M252.0 159.7h0M249.5 162.9h0M249.5 165.5h0M252.4 206.9h0M252.0 210.6h0M252.3 227.7h0M252.1 231.4h0M249.5 234.4h0M252.4 239.0h0M252.8 242.7h0M254.4 256.1h0M253.4 259.5h0M251.1 262.3h0M250.7 266.0h0M253.9 278.1h0M251.5 284.7h0M253.1 289.7h0M254.1 298.0h0M254.4 301.7h0M254.0 305.4h0M254.2 345.8h0M251.4 352.3h0M249.5 351.8h0M250.0 355.5h0M253.5 435.1h0M252.2 457.8h0M252.7 472.7h0M253.2 480.3h0M254.4 488.7h0M258.3 167.2h0M259.5 171.6h0M255.5 171.0h0M259.9 185.3h0M258.4 191.4h0M258.9 195.1h0M258.8 200.3h0M257.5 202.1h0M257.1 205.8h0M257.4 209.5h0M257.1 227.2h0M256.7 230.9h0M256.9 237.7h0M259.0 241.4h0M258.8 244.6h0M259.2 248.3h0M257.8 254.3h0M258.3 260.5h0M257.4 263.6h0M261.3 264.3h0M259.7 266.1h0M262.0 266.5h0M259.2 268.6h0M259.4 272.3h0M261.4 274.8h0M261.0 278.5h0M260.7 282.2h0M257.0 291.7h0M255.0 294.6h0M258.3 317.0h0M258.6 320.7h0M261.5 324.0h0M262.0 324.8h0M261.7 328.5h0M261.7 332.2h0M258.8 349.6h0M258.1 353.7h0M258.5 357.4h0M261.2 360.5h0M261.3 364.2h0M259.4 368.1h0M255.6 367.7h0M255.2 371.4h0M255.0 374.1h0M255.0 377.8h0M260.0 393.6h0M262.0 393.8h0M262.0 397.5h0M257.4 431.4h0M259.7 435.3h0M255.7 434.9h0M258.1 445.5h0M257.4 452.2h0M259.4 456.3h0M257.3 463.4h0M261.4 463.6h0M262.0 463.8h0M257.4 474.8h0M258.5 489.7h0M258.2 493.4h0M258.1 505.2h0M257.8 508.9h0M266.3 147.0h0M266.1 149.7h0M266.3 152.7h0M266.0 155.7h0M265.6 158.9h0M265.7 161.6h0M266.0 164.3h0M265.6 167.7h0M266.1 170.8h0M266.1 174.1h0M266.2 176.9h0M266.0 180.1h0M266.0 183.0h0M265.9 186.2h0M265.8 189.4h0M265.9 192.2h0M266.1 195.3h0M265.9 198.3h0M266.2 201.7h0M266.0 204.7h0M265.9 207.9h0M266.2 210.9h0M266.2 213.7h0M265.8 216.5h0M265.9 219.3h0M265.8 222.3h0M266.2 225.4h0M266.1 232.4h0M266.0 235.3h0M266.3 238.5h0M265.7 241.4h0M266.1 244.0h0M265.9 247.2h0M266.1 250.3h0M265.8 253.2h0M265.9 256.4h0M266.2 259.1h0M266.2 261.7h0M265.9 265.0h0M265.9 268.2h0M265.9 271.9h0M266.1 275.1h0M266.0 280.6h0M266.3 284.7h0M265.7 287.5h0M265.9 290.3h0M265.7 293.2h0M266.3 296.0h0M266.1 299.3h0M266.0 302.0h0M265.9 305.3h0M265.8 308.2h0M266.1 311.0h0M265.8 313.6h0M266.0 316.9h0M266.0 319.5h0M265.6 322.4h0M266.1 325.2h0M266.0 328.1h0M265.7 330.7h0M266.0 333.9h0M266.2 336.8h0M266.2 340.0h0M266.6 343.1h0M265.9 345.7h0M265.7 348.4h0M265.9 351.4h0M265.8 354.0h0M266.0 357.2h0M265.7 360.4h0M266.2 364.7h0M265.8 368.1h0M266.3 371.1h0M265.8 374.1h0M266.0 377.0h0M266.0 380.0h0M265.9 382.6h0M265.4 385.7h0M265.6 388.9h0M266.1 392.2h0M266.0 394.8h0M265.7 397.9h0M266.2 400.7h0M265.8 403.7h0M265.4 407.1h0M266.1 409.7h0M265.9 413.2h0M266.1 416.2h0M265.8 418.9h0M266.2 421.7h0M265.7 425.3h0M266.3 428.2h0M265.9 431.4h0M265.6 434.5h0M266.3 437.7h0M265.8 440.6h0M266.1 443.6h0M266.1 446.5h0M265.9 449.6h0M265.9 452.3h0M265.7 457.1h0M265.9 459.8h0M266.0 462.9h0M266.1 466.0h0M265.8 468.8h0M266.0 472.0h0M266.1 474.8h0M265.8 477.8h0M265.9 481.2h0M266.0 484.0h0M266.0 486.6h0M266.2 489.6h0M265.6 492.8h0M265.9 495.7h0M266.1 498.7h0M265.8 501.5h0M266.1 504.1h0M266.0 507.2h0M266.1 510.6h0M272.9 225.7h0M273.4 229.4h0M273.2 229.7h0M270.3 233.0h0M271.7 238.7h0M272.6 243.5h0M276.0 243.8h0M276.0 244.1h0M276.0 244.2h0M273.7 246.9h0M272.3 260.9h0M272.9 265.3h0M275.1 267.9h0M273.6 272.0h0M271.4 277.3h0M271.6 281.0h0M273.0 294.9h0M273.6 298.6h0M271.2 299.6h0M269.0 302.9h0M269.0 306.6h0M269.0 310.3h0M269.4 314.0h0M269.0 313.3h0M269.0 317.0h0M272.9 329.3h0M272.4 333.0h0M271.7 339.3h0M273.4 342.3h0M271.5 348.8h0M271.2 352.5h0M273.8 355.4h0M272.8 365.0h0M275.5 368.1h0M275.5 371.8h0M273.7 406.8h0M273.9 409.3h0M273.4 413.0h0M270.8 416.0h0M270.4 419.7h0M272.5 420.9h0M273.3 424.8h0M271.8 428.6h0M271.7 432.3h0M271.1 436.0h0M272.4 440.0h0M271.0 445.4h0M271.6 453.3h0M271.8 457.0h0M275.2 457.6h0M273.0 469.0h0M272.9 472.7h0M273.6 479.8h0M274.0 483.9h0M273.3 486.9h0M273.2 489.6h0M272.9 492.0h0M272.3 494.2h0M271.2 499.1h0M273.5 505.9h0M270.5 509.1h0M277.4 235.2h0M278.6 260.0h0M279.2 313.0h0M279.1 316.7h0M278.0 331.4h0M279.2 350.1h0M278.6 368.2h0M279.0 371.9h0M276.9 416.4h0M278.4 426.5h0M278.0 430.2h0M285.4 239.5h0M288.5 239.8h0M283.8 254.2h0M284.5 260.9h0M284.8 264.6h0M284.4 354.5h0M284.9 366.8h0M285.5 371.6h0M284.0 434.9h0M284.8 444.2h0M286.1 471.2h0M284.5 482.1h0M291.8 156.6h0M289.9 164.3h0M290.6 246.6h0M291.4 297.9h0M290.9 319.7h0M290.9 351.7h0M292.2 375.3h0M292.6 384.6h0M290.3 407.0h0M290.5 411.0h0M292.3 417.5h0M292.0 423.8h0M292.6 427.5h0M291.5 437.0h0M290.9 444.9h0M292.0 464.6h0M292.3 475.4h0M290.1 499.9h0M297.0 143.7h0M295.7 164.4h0M296.1 203.8h0M296.4 206.7h0M295.5 212.5h0M296.1 231.1h0M296.1 243.9h0M297.5 256.5h0M297.3 260.6h0M294.4 282.2h0M293.9 285.9h0M297.0 325.3h0M294.5 335.8h0M295.2 353.2h0M295.8 356.9h0M296.4 359.4h0M295.7 367.0h0M296.5 370.1h0M296.7 373.8h0M295.2 401.2h0M295.7 404.9h0M294.8 413.2h0M297.5 418.9h0M294.6 428.2h0M297.1 432.4h0M296.8 439.9h0M292.7 439.6h0M297.3 444.4h0M297.4 448.1h0M296.4 471.4h0M299.8 473.8h0M296.6 475.9h0M295.5 479.0h0M296.8 482.3h0M296.2 485.4h0M296.2 499.2h0M295.6 502.4h0M295.9 507.7h0M296.1 510.9h0M300.5 143.5h0M300.1 146.8h0M301.5 149.9h0M304.5 152.3h0M300.3 153.0h0M300.6 156.0h0M301.5 158.6h0M300.9 161.7h0M300.7 165.0h0M300.4 168.2h0M300.6 171.9h0M301.6 175.6h0M304.2 177.7h0M300.2 178.5h0M298.2 181.8h0M301.6 181.2h0M301.6 184.0h0M300.3 187.0h0M300.2 190.2h0M301.9 193.1h0M300.7 195.7h0M303.7 198.1h0M300.7 198.4h0M301.1 203.3h0M304.6 205.5h0M300.0 206.5h0M298.0 208.9h0M300.6 209.3h0M301.4 212.4h0M301.2 216.1h0M301.7 219.1h0M301.4 221.7h0M301.8 224.9h0M301.1 228.2h0M300.5 231.0h0M303.8 233.1h0M300.4 233.7h0M298.3 235.9h0M300.5 236.4h0M301.8 239.5h0M300.6 243.2h0M300.0 246.5h0M301.3 249.6h0M301.3 253.4h0M301.3 256.4h0M301.3 259.6h0M304.2 261.9h0M300.3 262.6h0M298.3 265.7h0M301.5 265.2h0M301.9 268.3h0M300.5 272.1h0M301.8 275.4h0M301.6 278.6h0M301.3 282.3h0M301.1 285.3h0M303.8 287.8h0M300.8 288.0h0M297.5 290.3h0M300.2 291.2h0M304.5 293.8h0M300.5 294.3h0M300.4 297.0h0M300.1 299.8h0M301.4 302.6h0M304.2 306.3h0M301.8 305.5h0M300.7 309.1h0M303.7 310.8h0M300.1 311.8h0M301.0 314.4h0M301.5 317.6h0M301.2 320.8h0M301.1 323.6h0M301.7 326.9h0M301.0 330.4h0M300.6 333.2h0M300.9 336.0h0M304.7 339.7h0M301.4 339.3h0M300.5 342.4h0M300.7 345.3h0M301.1 348.2h0M300.7 351.5h0M303.7 353.7h0M300.5 354.1h0M303.9 357.7h0M301.8 356.9h0M301.1 359.7h0M301.0 362.3h0M300.6 365.8h0M301.0 370.6h0M304.0 373.3h0M301.4 373.5h0M301.9 376.1h0M301.7 379.0h0M300.4 381.7h0M304.5 384.4h0M300.5 384.8h0M301.5 388.0h0M301.8 390.9h0M300.7 393.7h0M301.0 396.9h0M301.1 400.0h0M300.9 402.7h0M301.5 405.3h0M298.1 408.5h0M301.4 408.1h0M303.9 411.3h0M301.4 410.9h0M301.8 414.1h0M300.6 416.8h0M300.8 419.5h0M303.9 421.4h0M300.1 422.3h0M300.6 426.6h0M301.2 430.2h0M301.6 433.5h0M300.3 436.4h0M303.6 438.2h0M300.1 439.0h0M300.4 442.0h0M300.2 444.9h0M297.2 447.3h0M300.9 450.9h0M300.8 453.6h0M304.5 457.7h0M301.9 456.8h0M303.7 459.2h0M300.8 459.4h0M300.4 462.6h0M301.0 465.6h0M297.7 467.9h0M301.2 469.2h0M300.5 472.3h0M300.3 475.5h0M304.2 479.0h0M301.5 478.5h0M301.1 481.7h0M297.5 484.3h0M300.5 484.8h0M300.3 487.5h0M301.2 490.6h0M304.5 494.2h0M301.0 498.4h0M301.6 501.9h0M297.9 504.1h0M300.3 504.8h0M300.7 507.6h0M301.7 510.5h0M305.6 146.1h0M305.6 149.4h0M305.4 152.6h0M302.6 156.4h0M306.6 155.7h0M309.2 157.8h0M305.1 158.7h0M306.5 161.8h0M306.4 164.9h0M309.3 168.4h0M306.5 167.9h0M305.6 170.6h0M305.9 173.4h0M302.5 177.1h0M306.6 176.5h0M309.5 178.8h0M305.2 179.7h0M309.6 182.1h0M305.3 182.8h0M305.9 187.2h0M305.6 190.2h0M306.6 193.2h0M305.1 195.9h0M305.9 198.6h0M305.5 201.3h0M306.1 204.6h0M306.8 207.3h0M309.4 210.9h0M306.5 210.4h0M306.0 213.7h0M308.7 216.6h0M306.2 216.4h0M306.0 219.6h0M306.9 222.9h0M306.5 225.6h0M309.0 228.7h0M306.3 228.4h0M309.4 232.3h0M306.8 231.5h0M302.5 235.1h0M306.5 234.7h0M305.5 237.3h0M305.2 240.6h0M306.6 243.9h0M306.2 247.0h0M305.8 254.2h0M306.5 257.1h0M305.6 260.0h0M305.0 262.6h0M306.1 265.8h0M306.8 268.6h0M308.6 271.9h0M305.5 272.0h0M309.4 275.7h0M306.6 275.1h0M306.8 278.0h0M309.4 280.3h0M306.3 282.3h0M308.8 285.2h0M306.2 285.0h0M309.6 288.9h0M306.7 288.2h0M308.6 291.3h0M306.2 292.0h0M302.4 294.8h0M305.5 295.2h0M305.8 298.5h0M302.8 302.0h0M306.5 301.5h0M308.6 303.3h0M305.2 304.1h0M309.7 307.4h0M306.1 307.4h0M306.3 310.3h0M306.5 313.0h0M309.0 315.7h0M305.8 315.9h0M305.8 318.7h0M306.7 321.4h0M305.1 324.1h0M306.4 327.0h0M302.7 330.1h0M306.1 330.0h0M306.3 332.8h0M305.7 337.3h0M305.3 339.9h0M306.5 342.8h0M305.8 345.7h0M305.0 348.5h0M306.3 351.7h0M303.3 354.5h0M306.1 354.4h0M305.9 359.3h0M305.5 362.2h0M309.5 366.4h0M307.0 365.4h0M305.1 368.2h0M305.9 371.3h0M305.0 374.1h0M303.3 376.0h0M305.3 376.7h0M305.1 380.0h0M303.2 382.0h0M306.2 383.0h0M306.6 386.4h0M305.3 389.4h0M308.9 392.2h0M305.9 392.7h0M302.3 396.4h0M306.5 396.0h0M305.4 398.7h0M309.3 401.5h0M305.8 401.7h0M306.3 404.8h0M306.2 408.0h0M306.6 411.0h0M306.1 414.2h0M309.8 417.0h0M305.8 417.7h0M306.1 420.7h0M309.3 423.1h0M305.5 423.7h0M306.1 429.1h0M305.5 432.3h0M306.5 435.4h0M309.1 438.9h0M306.5 438.4h0M306.3 441.1h0M306.5 444.4h0M309.5 447.5h0M305.5 447.9h0M306.1 451.4h0M309.2 453.6h0M305.2 454.4h0M306.3 457.2h0M305.6 462.3h0M306.4 465.3h0M308.9 468.1h0M306.0 468.1h0M305.0 470.8h0M308.7 473.2h0M305.8 473.4h0M302.5 477.5h0M306.6 477.2h0M309.2 479.7h0M305.6 480.1h0M306.3 482.8h0M306.8 485.4h0M308.8 487.2h0M305.1 488.1h0M305.3 491.3h0M309.8 495.2h0M306.6 494.6h0M306.6 497.6h0M305.6 500.8h0M302.9 503.4h0M305.7 503.7h0M305.7 506.6h0M305.9 509.5h0M309.9 198.1h0M310.2 204.6h0M312.9 207.6h0M309.3 224.1h0M310.3 237.9h0M310.2 241.6h0M306.5 241.1h0M308.8 259.5h0M309.0 263.2h0M311.0 269.6h0M311.3 276.7h0M310.9 280.4h0M311.1 292.1h0M308.6 303.9h0M310.6 305.5h0M310.8 311.0h0M308.8 317.0h0M309.3 320.7h0M309.2 324.4h0M308.9 334.1h0M309.5 337.3h0M309.7 341.0h0M309.5 345.9h0M310.0 349.6h0M310.1 355.5h0M311.1 364.1h0M310.1 376.6h0M311.2 397.2h0M309.7 402.5h0M309.4 411.7h0M311.2 415.3h0M309.8 419.4h0M310.4 426.6h0M310.1 430.8h0M309.3 430.4h0M311.2 432.3h0M307.7 432.0h0M311.2 436.7h0M307.6 435.9h0M309.6 452.9h0M310.3 459.3h0M310.9 460.2h0M310.7 469.9h0M309.2 474.6h0M311.2 479.4h0M308.4 482.5h0M311.5 495.3h0M310.8 500.4h0M309.3 504.9h0M306.5 504.5h0M311.3 509.2h0M313.5 509.8h0M314.8 156.1h0M314.9 160.7h0M315.7 163.5h0M317.3 168.5h0M313.9 167.9h0M315.7 177.1h0M315.4 178.1h0M315.6 187.0h0M316.3 190.4h0M312.5 189.7h0M312.5 189.4h0M312.5 192.6h0M312.5 196.3h0M314.6 200.5h0M315.2 208.4h0M312.9 211.2h0M314.8 214.9h0M315.8 220.1h0M315.8 227.4h0M315.1 232.0h0M312.8 234.8h0M315.2 241.1h0M314.7 244.3h0M316.6 248.5h0M314.0 251.4h0M316.2 262.8h0M315.0 267.1h0M315.5 280.6h0M315.2 284.3h0M312.5 284.2h0M312.5 284.1h0M312.6 287.8h0M316.0 292.6h0M315.4 294.0h0M317.2 303.6h0M315.7 310.7h0M314.7 317.5h0M314.4 322.0h0M314.4 323.0h0M317.5 327.7h0M317.3 331.4h0M317.0 339.3h0M319.5 339.3h0M315.6 351.1h0M318.1 354.0h0M314.8 377.3h0M315.4 381.0h0M316.1 388.8h0M317.1 398.9h0M317.6 402.6h0M317.9 406.3h0M314.8 410.6h0M317.3 415.4h0M315.4 418.9h0M317.3 425.8h0M317.3 429.5h0M315.3 439.4h0M315.4 444.7h0M315.1 448.4h0M316.2 461.6h0M312.5 461.0h0M317.6 471.3h0M317.6 475.8h0M316.5 481.2h0M316.7 497.8h0M316.5 501.5h0M322.6 144.3h0M322.0 148.0h0M318.4 147.3h0M321.0 180.4h0M318.8 183.0h0M320.1 187.2h0M320.9 190.3h0M324.4 190.4h0M320.1 192.1h0M319.6 209.7h0M322.0 212.6h0M324.5 213.2h0M321.6 214.8h0M322.1 219.8h0M320.6 224.3h0M320.7 228.0h0M321.3 234.5h0M321.3 241.5h0M321.4 246.0h0M321.2 262.7h0M320.9 266.4h0M321.3 285.9h0M322.6 293.2h0M322.2 296.9h0M322.2 300.6h0M321.4 304.4h0M319.5 317.8h0M319.8 321.5h0M317.5 321.1h0M322.6 333.5h0M322.3 336.2h0M320.9 345.4h0M321.2 349.1h0M321.3 358.6h0M317.9 358.0h0M317.8 361.7h0M322.5 378.9h0M321.9 385.8h0M321.3 385.9h0M319.5 393.1h0M320.5 397.3h0M317.5 396.5h0M317.5 400.2h0M319.8 419.0h0M319.4 427.5h0M319.6 433.2h0M320.0 436.9h0M322.2 444.2h0M322.7 447.9h0M319.9 451.0h0M317.5 450.2h0M322.2 469.1h0M319.6 481.7h0M321.4 484.9h0M322.1 492.7h0M320.9 496.8h0M319.7 511.0h0M327.0 171.6h0M327.5 181.4h0M327.5 185.1h0M326.6 197.1h0M324.4 199.8h0M323.0 199.5h0M323.0 199.1h0M323.2 202.8h0M326.9 252.5h0M326.5 256.2h0M327.8 266.2h0M325.0 274.0h0M325.7 286.8h0M326.4 294.0h0M326.2 299.3h0M327.0 304.6h0M326.8 309.9h0M325.7 318.5h0M326.2 329.4h0M328.9 332.5h0M326.0 340.1h0M327.1 346.0h0M327.9 350.1h0M327.8 357.1h0M326.7 361.2h0M326.2 364.9h0M326.9 373.8h0M327.3 376.7h0M326.9 383.4h0M327.1 387.1h0M325.4 393.1h0M325.0 396.8h0M323.0 396.4h0M325.1 414.3h0M327.7 418.0h0M325.6 423.5h0M326.3 432.4h0M326.2 432.6h0M327.4 438.1h0M327.6 451.1h0M324.9 463.3h0M325.4 467.0h0M325.0 472.0h0M324.9 477.1h0M323.0 480.1h0M325.3 486.4h0M327.2 498.5h0M327.8 508.3h0M332.5 235.5h0M335.6 257.0h0M333.3 274.6h0M335.5 289.1h0M333.9 310.8h0M333.1 318.6h0M333.8 323.2h0M333.3 326.9h0M334.1 341.2h0M334.9 341.1h0M332.7 349.5h0M334.6 361.8h0M335.2 369.5h0M335.5 381.3h0M333.4 396.8h0M333.8 402.8h0M333.9 419.9h0M333.8 431.8h0M334.6 446.6h0M332.4 452.8h0M335.4 456.0h0M333.5 497.8h0M334.7 501.3h0M340.5 208.0h0M340.3 213.3h0M340.0 217.0h0M341.2 225.5h0M341.3 227.7h0M339.2 230.3h0M338.6 234.0h0M341.5 237.2h0M341.2 240.9h0M339.2 264.2h0M340.0 270.0h0M339.5 273.7h0M341.5 274.2h0M340.1 285.9h0M342.3 288.6h0M342.7 292.3h0M341.2 334.0h0M339.0 339.7h0M339.4 343.4h0M338.7 347.9h0M340.5 353.6h0M340.6 357.3h0M341.1 361.0h0M337.9 360.6h0M340.5 363.7h0M341.1 389.2h0M343.5 392.2h0M343.1 395.9h0M343.2 399.6h0M340.1 447.4h0M339.0 463.6h0M341.6 488.0h0M340.9 493.4h0M343.7 144.7h0M343.3 148.4h0M343.2 152.1h0M344.4 180.3h0M345.9 183.8h0M346.3 187.5h0M344.2 196.1h0M346.0 196.8h0M348.5 200.1h0M346.2 209.7h0M346.1 213.4h0M348.1 215.9h0M348.5 219.6h0M346.0 222.5h0M343.7 234.5h0M341.5 233.7h0M341.6 237.4h0M342.0 241.1h0M345.2 272.6h0M344.3 276.8h0M344.6 280.5h0M344.1 284.2h0M341.5 283.9h0M345.4 295.6h0M345.9 300.7h0M346.1 304.4h0M345.9 308.1h0M346.0 311.8h0M345.8 315.5h0M345.5 319.2h0M345.3 322.9h0M346.5 347.3h0M345.8 357.7h0M342.8 361.0h0M345.6 364.1h0M346.0 367.8h0M348.5 367.9h0M348.5 368.3h0M348.5 372.0h0M345.6 399.9h0M343.9 408.9h0M341.8 411.5h0M341.5 411.2h0M345.1 427.6h0M342.2 430.9h0M344.2 452.9h0M345.5 464.7h0M345.4 469.1h0M345.0 471.8h0M345.5 475.5h0M343.8 504.0h0M346.1 506.7h0M348.5 506.7h0M348.5 509.9h0M353.4 144.2h0M353.1 147.1h0M350.3 150.0h0M353.5 150.0h0M353.3 153.4h0M353.5 156.2h0M353.6 159.2h0M353.5 162.4h0M354.0 165.6h0M353.9 168.5h0M353.0 171.3h0M353.5 174.5h0M350.0 177.0h0M353.1 177.7h0M353.4 180.3h0M350.6 182.5h0M353.1 183.1h0M350.6 185.2h0M353.1 185.9h0M353.6 190.6h0M354.0 193.8h0M357.0 197.3h0M353.7 197.0h0M353.9 200.1h0M353.5 203.7h0M349.8 206.5h0M353.2 207.0h0M356.8 211.0h0M354.1 210.0h0M353.8 212.6h0M353.5 215.9h0M350.9 219.0h0M353.8 218.5h0M350.0 222.5h0M354.0 221.6h0M353.1 224.3h0M349.8 227.4h0M353.4 227.5h0M353.7 231.4h0M353.1 234.6h0M353.3 237.9h0M357.1 240.6h0M353.2 241.1h0M353.2 244.4h0M353.6 247.5h0M353.5 252.2h0M357.1 254.8h0M353.1 255.5h0M353.8 258.1h0M356.2 261.5h0M353.9 260.8h0M353.1 263.6h0M353.5 266.8h0M357.0 270.0h0M353.6 269.9h0M353.4 272.9h0M353.8 276.1h0M353.3 278.9h0M349.7 281.3h0M352.9 282.2h0M349.8 286.2h0M353.9 286.5h0M356.2 289.3h0M353.6 289.2h0M353.6 292.2h0M353.2 295.3h0M353.9 298.7h0M352.9 301.4h0M353.0 304.4h0M353.0 307.5h0M353.6 310.6h0M352.9 313.4h0M353.9 316.6h0M353.6 319.3h0M356.4 322.8h0M354.0 322.1h0M356.6 325.1h0M353.6 325.0h0M353.6 328.4h0M353.5 331.4h0M353.8 334.7h0M354.1 338.1h0M353.4 341.4h0M350.3 343.8h0M353.2 344.3h0M352.9 347.3h0M353.4 350.6h0M353.7 353.7h0M353.7 356.8h0M353.9 359.8h0M350.0 363.8h0M354.0 363.0h0M350.5 365.7h0M353.4 365.8h0M357.0 369.9h0M354.1 368.9h0M353.1 371.7h0M353.8 374.6h0M356.8 377.4h0M353.4 377.6h0M354.1 380.3h0M353.8 383.2h0M354.0 386.8h0M350.4 389.0h0M353.1 389.6h0M357.2 392.5h0M353.3 392.9h0M353.1 395.5h0M356.2 398.7h0M353.9 398.1h0M354.0 401.2h0M353.5 404.3h0M353.8 407.0h0M353.7 409.7h0M350.1 413.6h0M353.6 414.0h0M353.2 416.9h0M353.8 419.7h0M354.0 422.5h0M353.0 425.5h0M353.3 428.5h0M350.1 431.3h0M353.4 431.6h0M353.7 434.7h0M353.8 437.4h0M352.9 440.3h0M356.8 444.3h0M354.1 443.3h0M350.8 445.2h0M353.0 445.9h0M353.1 449.8h0M353.4 452.5h0M356.7 455.2h0M353.7 455.6h0M354.0 458.3h0M354.0 460.9h0M353.3 465.7h0M356.9 468.5h0M353.4 468.8h0M353.8 471.5h0M353.9 474.1h0M353.1 477.4h0M356.6 480.3h0M353.5 480.3h0M353.4 483.6h0M350.7 485.6h0M353.1 486.3h0M353.9 489.5h0M353.1 492.8h0M353.1 496.1h0M353.3 499.4h0M353.7 502.4h0M350.5 505.8h0M353.8 505.3h0M356.9 509.2h0M354.0 508.4h0M353.5 511.4h0M356.9 222.8h0M355.0 225.8h0M360.0 291.5h0M359.0 308.2h0M359.1 311.9h0M359.6 323.6h0M359.3 327.3h0M358.7 347.6h0M355.8 350.8h0M357.5 389.5h0M359.1 392.8h0M358.3 399.2h0M361.9 399.3h0M357.3 428.7h0M359.1 446.1h0M359.8 449.8h0M359.5 457.9h0M359.4 501.1h0M358.2 508.8h0M365.7 341.8h0M364.9 360.9h0M364.5 363.1h0M366.1 370.1h0M369.1 373.4h0M367.5 416.5h0M364.5 427.3h0M364.8 451.5h0M365.6 456.3h0M365.9 501.7h0M371.5 397.5h0M371.3 407.6h0M372.8 474.0h0M372.2 481.4h0M371.0 494.6h0M371.1 510.4h0M376.9 316.4h0M378.6 366.0h0M376.7 375.7h0M376.4 379.4h0M377.4 463.5h0M377.7 467.2h0M375.1 470.3h0M382.7 186.3h0M380.9 208.1h0M381.6 229.2h0M382.0 242.8h0M381.6 246.5h0M383.4 270.9h0M383.5 274.6h0M381.9 295.8h0M383.0 305.0h0M382.1 309.9h0M382.7 311.8h0M382.1 315.5h0M382.8 336.9h0M383.4 359.3h0M383.1 370.0h0M381.2 374.9h0M385.4 375.4h0M382.3 394.4h0M382.0 398.1h0M382.2 412.7h0M381.2 432.4h0M380.5 435.2h0M383.4 446.2h0M383.4 459.0h0M382.8 478.8h0M383.0 496.4h0M381.0 499.5h0M383.7 502.6h0M388.0 157.3h0M387.7 161.0h0M389.5 164.9h0M389.4 168.6h0M386.6 184.9h0M388.9 204.9h0M387.1 218.9h0M389.2 231.8h0M386.4 240.2h0M386.7 247.4h0M389.0 261.2h0M388.1 263.4h0M387.2 274.6h0M387.8 280.0h0M388.4 290.6h0M391.5 290.7h0M391.5 291.0h0M390.9 294.7h0M386.9 299.9h0M388.7 307.7h0M388.5 311.4h0M388.3 315.1h0M387.2 364.5h0M391.2 364.5h0M388.9 374.8h0M386.9 391.8h0M387.5 400.8h0M387.7 406.4h0M389.5 412.0h0M388.7 418.4h0M388.1 418.5h0M385.9 421.2h0M389.4 436.8h0M386.5 441.1h0M386.7 456.5h0M388.2 466.1h0M391.5 466.5h0M391.3 470.2h0M387.6 478.0h0M387.3 481.7h0M389.6 499.7h0M387.0 506.8h0M392.1 156.7h0M394.2 175.7h0M396.5 175.8h0M392.5 195.4h0M392.7 212.6h0M392.7 225.1h0M394.4 246.2h0M393.6 255.5h0M391.7 265.1h0M391.8 268.8h0M394.1 271.6h0M393.4 290.9h0M393.9 294.6h0M394.1 298.3h0M394.2 302.0h0M393.9 305.7h0M394.3 309.4h0M394.2 325.4h0M396.3 327.9h0M392.4 341.5h0M392.9 345.2h0M392.8 348.9h0M390.2 351.8h0M394.0 358.8h0M391.0 362.0h0M393.1 384.1h0M392.4 389.3h0M392.1 395.4h0M392.6 412.1h0M394.0 418.1h0M393.2 421.8h0M391.4 422.1h0M389.5 421.7h0M394.3 424.0h0M394.1 427.7h0M393.5 431.4h0M391.4 451.6h0M393.0 459.6h0M394.5 474.4h0M391.7 483.2h0M391.8 495.7h0M392.3 499.4h0M391.8 503.7h0M401.8 154.6h0M405.2 157.0h0M400.4 157.9h0M402.2 161.1h0M401.4 172.1h0M401.4 175.3h0M401.7 185.5h0M404.2 187.4h0M400.6 188.1h0M402.0 190.9h0M401.8 195.0h0M401.1 199.4h0M401.7 202.4h0M400.3 209.8h0M400.4 213.5h0M402.4 222.6h0M400.9 234.5h0M400.8 238.2h0M402.2 256.4h0M398.8 256.1h0M402.7 275.2h0M400.9 278.3h0M401.4 282.0h0M403.9 284.8h0M404.2 288.5h0M401.0 319.4h0M400.8 326.2h0M401.6 330.9h0M401.4 334.4h0M401.3 338.1h0M401.3 341.8h0M400.4 347.8h0M402.7 350.8h0M398.6 350.3h0M400.1 355.5h0M401.6 363.0h0M402.8 368.2h0M402.2 371.9h0M402.4 375.6h0M401.5 392.4h0M401.1 396.2h0M401.0 399.9h0M401.4 403.6h0M401.3 408.3h0M402.3 413.3h0M402.6 417.0h0M401.3 420.9h0M400.9 427.0h0M400.7 430.7h0M400.1 434.4h0M402.6 453.2h0M405.0 453.3h0M400.4 488.2h0M398.3 490.7h0M398.0 490.2h0M400.0 495.9h0M402.1 505.2h0M402.4 508.9h0M412.5 142.7h0M415.6 145.3h0M412.1 145.7h0M413.6 148.8h0M412.9 152.6h0M413.5 155.4h0M411.7 158.1h0M411.9 161.7h0M412.0 164.3h0M412.8 167.6h0M416.2 170.8h0M412.5 170.8h0M412.4 174.1h0M412.6 177.4h0M412.4 180.5h0M415.7 183.1h0M412.2 183.4h0M413.4 186.5h0M415.3 188.7h0M412.0 189.2h0M412.2 192.5h0M413.1 196.0h0M412.9 199.3h0M412.5 202.1h0M413.4 205.0h0M412.7 207.7h0M412.8 210.9h0M408.8 213.4h0M411.6 214.2h0M411.6 217.3h0M416.0 220.3h0M412.4 220.5h0M413.0 223.3h0M412.5 226.4h0M415.2 229.8h0M413.3 229.1h0M412.5 231.7h0M416.0 234.7h0M412.3 234.9h0M412.4 238.5h0M415.8 241.0h0M411.9 241.5h0M415.6 245.0h0M413.1 244.5h0M415.2 247.4h0M412.8 247.1h0M412.0 249.8h0M412.0 253.1h0M412.5 256.4h0M409.0 259.3h0M412.2 259.6h0M412.1 263.8h0M409.1 267.0h0M412.9 267.6h0M412.2 270.9h0M412.1 273.8h0M412.3 276.6h0M412.9 279.9h0M412.6 282.8h0M409.5 286.3h0M413.3 285.6h0M409.7 289.1h0M413.4 288.3h0M416.1 292.2h0M413.2 291.5h0M415.8 295.0h0M413.0 294.5h0M411.7 297.4h0M409.0 300.2h0M412.3 300.5h0M412.0 303.5h0M412.4 306.9h0M408.8 310.8h0M412.4 310.9h0M409.1 313.6h0M412.5 314.0h0M409.7 316.6h0M412.3 316.8h0M413.6 319.5h0M412.2 322.4h0M408.8 325.1h0M411.8 325.7h0M416.0 329.0h0M412.6 328.9h0M411.9 331.8h0M409.2 335.4h0M412.8 335.1h0M415.4 337.6h0M412.2 337.9h0M412.8 341.1h0M411.5 344.3h0M413.4 347.5h0M411.9 350.5h0M411.8 353.2h0M415.4 355.7h0M412.2 356.0h0M409.4 358.9h0M412.0 359.2h0M412.3 362.7h0M411.7 365.3h0M413.4 368.0h0M411.5 371.2h0M412.3 374.3h0M412.0 377.8h0M415.8 381.5h0M413.3 380.8h0M415.4 383.3h0M412.2 383.6h0M412.7 388.0h0M408.8 391.8h0M412.6 391.7h0M411.8 394.4h0M415.8 397.8h0M412.8 397.5h0M412.3 400.4h0M412.5 403.1h0M409.4 405.6h0M412.0 406.0h0M409.5 408.3h0M411.9 408.9h0M413.2 411.5h0M411.7 414.5h0M409.1 416.9h0M411.7 417.6h0M412.6 420.7h0M409.0 423.1h0M411.7 423.9h0M412.4 426.6h0M412.9 431.9h0M412.2 434.8h0M412.5 437.5h0M413.5 440.1h0M412.9 443.1h0M412.7 446.3h0M411.5 449.6h0M412.3 453.4h0M412.4 456.6h0M413.4 459.7h0M413.1 462.8h0M412.3 465.9h0M409.8 467.9h0M411.7 468.6h0M413.2 471.3h0M411.9 474.0h0M412.0 476.7h0M415.2 479.2h0M412.3 479.4h0M415.6 481.5h0M411.7 482.3h0M411.9 485.3h0M409.2 488.8h0M413.1 489.7h0M411.7 492.9h0M412.9 495.7h0M415.9 499.6h0M413.4 498.8h0M413.2 501.4h0M415.7 504.3h0M412.8 504.6h0M413.6 507.3h0M416.0 509.5h0M411.4 510.4h0M417.3 154.5h0M415.1 157.2h0M415.3 165.8h0M415.6 169.5h0M417.6 172.0h0M417.4 192.0h0M420.3 195.2h0M417.3 211.5h0M415.7 217.2h0M413.7 219.7h0M418.2 223.9h0M417.8 228.1h0M420.1 230.8h0M416.4 236.4h0M416.2 240.1h0M416.6 301.8h0M417.5 305.3h0M417.9 309.6h0M416.2 315.3h0M416.4 319.0h0M413.3 318.3h0M415.8 345.9h0M415.4 346.4h0M415.7 355.0h0M416.1 358.7h0M416.4 362.4h0M417.5 366.9h0M415.9 380.4h0M416.4 388.4h0M415.4 393.8h0M416.0 397.5h0M419.7 397.5h0M417.9 444.9h0M415.9 449.1h0M418.3 454.0h0M416.8 457.8h0M416.0 468.7h0M416.6 474.5h0M415.2 481.4h0M416.1 488.2h0M415.8 491.9h0M417.5 496.0h0M417.5 499.7h0M417.3 507.7h0M418.5 150.6h0M416.5 153.3h0M421.5 166.3h0M418.6 169.6h0M416.5 172.8h0M420.4 180.1h0M421.4 186.9h0M417.8 186.4h0M419.7 194.4h0M419.1 198.5h0M419.4 202.2h0M418.7 208.8h0M422.7 209.2h0M420.4 229.3h0M420.2 233.0h0M420.4 236.7h0M420.1 240.4h0M421.1 247.6h0M420.7 247.8h0M420.6 251.9h0M422.8 254.5h0M419.7 257.5h0M421.1 263.5h0M420.1 266.2h0M417.2 269.4h0M420.6 269.9h0M421.1 279.4h0M420.9 283.1h0M420.6 286.8h0M417.4 286.2h0M419.7 299.7h0M421.2 305.7h0M421.6 315.4h0M421.8 319.1h0M419.9 339.1h0M419.8 342.8h0M419.9 345.6h0M419.3 356.4h0M419.5 360.1h0M419.6 364.0h0M420.5 370.6h0M418.2 373.3h0M419.1 388.3h0M420.2 394.7h0M418.8 414.3h0M416.5 413.9h0M421.5 422.6h0M418.6 429.7h0M420.7 435.0h0M418.4 454.7h0M420.6 464.7h0M419.5 469.0h0M419.5 474.7h0M421.1 488.4h0M419.9 492.8h0M419.4 500.6h0M426.5 152.3h0M425.4 172.3h0M427.1 176.9h0M426.1 186.2h0M426.1 189.7h0M427.5 194.3h0M424.7 199.8h0M424.6 203.5h0M427.0 215.5h0M427.2 219.2h0M425.3 256.5h0M425.7 260.2h0M425.4 263.9h0M425.3 267.6h0M425.4 271.3h0M426.7 293.9h0M424.9 294.8h0M424.8 298.5h0M426.1 312.7h0M426.0 318.2h0M425.3 325.4h0M427.2 330.5h0M425.9 336.8h0M425.4 340.5h0M422.5 340.3h0M424.8 343.0h0M425.3 345.9h0M425.8 350.1h0M426.2 360.4h0M423.3 363.7h0M422.5 363.7h0M422.5 367.4h0M425.2 400.3h0M426.0 409.4h0M425.8 410.5h0M425.9 415.8h0M426.1 427.8h0M426.5 431.5h0M426.2 435.2h0M426.9 439.9h0M424.6 441.3h0M425.5 453.5h0M427.3 476.2h0M427.0 479.9h0M430.7 148.3h0M430.4 155.1h0M428.0 154.4h0M431.9 177.2h0M430.6 209.1h0M430.1 216.6h0M432.3 226.9h0M432.0 230.9h0M431.6 234.6h0M433.0 246.7h0M430.1 258.0h0M431.8 261.9h0M430.7 288.4h0M430.6 297.9h0M430.8 301.6h0M434.6 302.3h0M434.2 306.0h0M430.7 305.2h0M428.0 305.1h0M432.9 376.4h0M431.0 382.0h0M430.6 387.5h0M428.3 390.3h0M432.9 426.3h0M431.3 430.1h0M431.8 437.9h0M431.5 449.4h0M430.2 463.4h0M428.0 466.2h0M428.0 469.9h0M442.7 199.6h0M442.8 205.6h0M442.4 208.5h0M444.0 211.9h0M443.3 214.5h0M443.3 222.9h0M442.2 226.2h0M443.7 228.9h0M443.6 232.2h0M446.7 236.3h0M444.0 235.4h0M442.0 238.2h0M439.3 241.7h0M443.3 241.4h0M446.4 244.4h0M442.8 244.5h0M441.9 247.2h0M446.2 251.0h0M443.9 250.2h0M442.8 255.7h0M443.1 258.3h0M442.3 261.5h0M443.5 264.8h0M442.8 273.2h0M439.6 276.4h0M443.2 276.6h0M445.8 278.5h0M442.0 279.4h0M442.6 287.2h0M443.8 290.1h0M443.9 292.8h0M446.7 295.3h0M442.7 296.5h0M445.7 299.9h0M442.5 299.6h0M443.4 308.3h0M441.8 311.6h0M446.4 314.8h0M443.0 317.5h0M443.0 320.5h0M442.1 323.1h0M442.2 330.3h0M442.5 334.0h0M442.1 337.7h0M444.6 343.9h0M443.3 351.1h0M446.1 354.3h0M443.1 367.9h0M442.8 371.6h0M440.4 374.4h0M442.0 384.3h0M445.2 384.4h0M443.5 388.3h0M442.5 393.1h0M439.5 396.4h0M439.5 400.1h0M444.5 406.0h0M445.0 409.7h0M441.8 416.1h0M442.0 419.2h0M443.2 429.7h0M443.3 434.2h0M441.8 439.0h0M441.8 442.7h0M439.5 442.2h0M442.0 452.0h0M442.7 458.7h0M444.4 465.0h0M446.5 465.4h0M442.5 473.7h0M440.4 476.3h0M440.4 480.0h0M441.6 504.3h0M443.0 509.3h0M451.1 322.8h0M453.4 325.6h0M451.9 376.1h0M453.0 497.9h0M453.1 501.6h0M459.6 301.9h0M460.9 420.1h0M466.5 280.5h0M465.6 366.7h0M466.0 378.4h0M467.6 383.3h0M468.1 398.2h0M467.0 493.9h0M464.7 496.6h0M80.0 510.6h0M78.1 507.7h0M81.6 508.9h0M80.4 506.3h0M84.2 506.5h0M82.2 503.6h0M87.3 503.3h0M88.9 505.7h0M93.7 495.9h0M96.1 494.8h0M98.2 492.4h0M100.1 490.0h0M102.3 492.5h0M102.2 489.0h0M101.1 486.6h0M105.3 485.3h0M103.4 484.7h0M107.0 484.6h0M109.0 482.2h0M112.3 479.8h0M110.0 478.2h0M116.2 475.6h0M114.0 474.1h0M117.7 474.2h0M120.0 476.2h0M119.7 472.5h0M122.2 473.8h0M124.5 468.5h0M126.8 469.6h0M126.4 466.2h0M130.7 463.1h0M135.5 457.5h0M137.9 454.7h0M140.5 453.9h0M144.9 447.5h0M146.8 450.1h0M147.5 446.4h0M149.4 448.1h0M148.8 444.0h0M151.3 442.5h0M153.5 440.4h0M151.8 438.1h0M155.7 439.2h0M157.7 439.9h0M158.2 435.8h0M160.1 437.5h0M161.0 433.1h0M158.5 431.6h0M162.9 431.6h0M167.0 428.1h0M169.3 429.7h0M169.4 426.1h0M171.0 427.0h0M172.4 423.3h0M173.5 424.7h0M174.1 421.9h0M175.9 423.2h0M175.8 419.0h0M174.2 417.6h0M178.4 417.5h0M180.1 419.7h0M180.8 414.6h0M185.4 409.9h0M187.2 412.8h0M187.7 407.1h0M189.4 405.3h0M187.6 404.1h0M191.9 404.5h0M194.1 406.3h0M195.9 400.4h0M197.5 402.7h0M197.6 399.3h0M196.5 396.7h0M199.4 395.9h0M198.0 394.6h0M204.4 392.6h0M207.2 389.5h0M208.7 391.6h0M208.5 387.6h0M207.0 386.3h0M211.6 385.5h0M213.1 387.7h0M214.0 382.5h0M215.8 385.5h0M216.3 382.3h0M217.9 383.9h0M217.6 379.6h0M219.4 381.7h0M220.2 377.6h0M221.2 379.6h0M224.6 374.3h0M226.3 375.2h0M226.8 371.6h0M224.7 369.1h0M228.3 368.9h0M231.0 366.8h0M228.8 365.5h0M233.6 365.3h0M235.0 363.9h0M237.4 361.5h0M239.2 358.9h0M241.2 361.2h0M243.8 354.7h0M246.0 357.2h0M245.9 352.7h0M247.7 355.2h0M247.5 352.2h0M250.1 353.6h0M249.7 350.2h0M252.0 347.2h0M253.8 346.2h0M256.0 343.2h0M258.1 344.8h0M261.5 339.6h0M258.8 336.9h0M264.9 335.6h0M267.2 334.1h0M264.7 331.3h0M268.9 330.3h0M267.5 329.7h0M271.2 329.7h0M269.9 327.3h0M276.5 324.6h0M278.7 326.2h0M279.3 321.4h0M280.6 320.2h0M279.2 317.9h0M282.7 317.5h0M285.0 316.1h0M288.0 313.3h0M285.3 311.8h0M292.2 311.2h0M293.7 312.1h0M296.4 307.0h0M297.7 303.0h0M299.9 305.9h0M300.1 302.7h0M302.5 303.7h0M303.3 299.5h0M305.1 301.3h0M305.8 296.1h0M303.9 295.0h0M308.3 294.2h0M306.6 292.7h0M310.3 292.2h0M308.7 290.0h0M312.5 289.8h0M315.9 288.5h0M313.8 286.0h0M318.5 284.3h0M316.1 283.3h0M320.2 283.1h0M322.0 281.1h0M320.3 278.7h0M324.9 279.1h0M326.7 276.8h0M328.8 276.0h0M330.2 272.3h0M333.0 275.4h0M332.0 272.1h0M334.6 273.5h0M334.0 269.9h0M337.5 267.1h0M341.6 264.0h0M343.2 265.0h0M342.6 260.8h0M346.0 258.9h0M347.3 257.9h0M349.5 258.7h0M350.4 254.7h0M352.1 252.7h0M357.3 247.0h0M358.9 249.6h0M359.3 245.6h0M361.2 247.7h0M361.1 244.8h0M364.2 241.5h0M362.2 240.4h0M365.7 239.2h0M364.3 238.4h0M367.6 238.2h0M365.7 236.2h0M370.1 235.8h0M371.8 233.9h0M374.4 235.9h0M374.8 231.3h0M373.3 229.9h0M378.1 228.0h0M380.2 226.9h0M382.0 228.5h0M382.5 224.7h0M385.0 221.6h0M383.0 220.5h0M386.6 219.9h0M392.3 214.4h0M396.4 210.6h0M394.7 208.6h0M399.4 208.7h0M400.8 210.8h0M401.2 205.6h0M405.2 201.8h0M409.5 197.8h0M410.9 200.5h0M411.3 196.4h0M413.3 194.6h0M411.5 192.7h0M415.6 193.7h0M418.1 189.8h0M420.0 187.8h0M422.2 190.7h0M421.9 187.4h0M424.1 188.4h0M424.2 185.1h0M422.1 182.6h0M427.0 182.0h0M424.8 180.5h0M429.6 180.4h0M430.9 181.8h0M431.8 178.2h0M434.3 175.4h0M438.0 172.5h0M440.4 173.8h0M440.3 169.4h0M443.2 168.0h0M444.4 164.6h0M446.5 167.0h0M179.4 395.2h0M409.7 211.1h0M135.8 225.6h0M129.2 338.4h0M193.3 301.7h0M315.7 147.9h0M135.6 463.8h0M392.8 447.2h0M410.0 322.0h0M298.5 300.9h0M246.1 258.3h0M398.1 436.8h0M347.9 346.9h0M131.0 392.1h0M147.3 217.3h0M177.2 312.0h0M232.8 190.8h0M170.2 229.5h0M221.3 169.6h0M442.4 158.5h0M392.9 451.5h0M140.7 295.0h0M424.1 438.6h0M411.4 280.7h0M131.8 500.6h0M360.3 220.6h0M305.0 360.5h0M362.3 268.4h0M142.6 394.7h0M166.4 168.1h0M295.4 342.9h0M249.9 269.1h0M79.6 510.4h0M196.0 241.7h0M108.6 315.8h0M403.9 144.7h0M272.1 500.1h0M263.4 389.4h0M90.8 327.4h0M366.4 237.8h0M409.6 237.9h0M217.1 232.6h0M157.9 271.9h0M233.5 174.6h0M312.4 144.1h0M152.7 319.8h0M208.3 249.3h0M131.8 460.9h0M399.6 223.1h0M229.9 154.9h0M219.2 305.5h0M128.9 438.8h0M426.7 343.6h0M80.3 234.1h0M136.8 319.1h0M213.0 438.1h0M358.6 388.3h0M281.2 481.9h0M302.0 371.4h0M428.5 185.1h0M286.7 442.1h0M195.2 497.1h0M112.3 161.8h0M362.0 182.1h0M416.4 511.1h0M243.9 371.9h0M357.7 249.7h0M121.1 256.3h0M262.2 241.3h0M254.0 144.0h0M179.4 265.0h0M174.9 455.9h0M240.7 508.7h0M267.2 239.0h0M430.3 340.4h0M224.9 318.1h0M301.9 155.2h0M148.1 180.5h0M198.3 468.9h0M281.8 450.2h0M369.2 381.8h0M134.3 452.1h0M99.3 327.2h0M178.8 321.9h0M173.5 338.1h0M253.7 422.7h0M164.4 161.3h0M245.0 479.5h0M117.6 479.6h0M397.1 449.0h0M359.6 388.5h0M178.7 191.8h0M311.1 163.4h0M316.4 331.2h0M420.3 283.1h0M273.2 353.4h0M442.4 306.4h0M210.4 390.4h0M345.1 280.9h0M265.0 295.3h0M384.4 506.1h0M238.5 350.6h0M109.6 222.0h0M205.0 253.1h0M159.4 486.7h0M157.9 501.7h0M122.4 190.0h0M229.2 220.9h0M84.5 400.0h0M168.7 351.0h0M335.6 403.9h0M389.4 457.0h0M99.5 371.5h0M281.6 430.8h0M353.8 299.8h0M173.9 246.4h0M294.5 476.8h0M357.6 178.3h0M141.1 458.7h0M177.6 440.5h0M197.5 180.6h0M119.1 402.2h0M242.3 404.3h0M207.8 276.6h0M424.4 175.1h0M389.6 444.3h0M242.8 193.9h0M281.4 232.5h0M431.7 149.7h0M371.6 417.8h0M367.9 350.3h0M378.7 323.9h0M397.3 370.9h0M86.4 433.7h0M245.8 248.6h0M234.8 450.0h0M296.2 431.2h0M287.7 419.2h0M368.5 471.0h0M295.0 212.1h0M247.9 326.5h0M95.0 271.5h0M257.4 455.3h0M379.2 301.6h0M100.6 291.1h0M365.2 350.5h0M93.6 400.3h0M360.9 368.2h0M419.6 191.3h0M112.0 499.8h0M253.1 487.5h0M276.7 164.7h0M327.8 230.9h0M242.3 487.3h0M260.0 155.8h0M157.3 412.0h0M359.4 149.0h0M193.4 398.9h0M338.3 324.7h0M175.4 315.0h0M359.5 166.8h0M148.4 350.2h0M89.1 372.9h0M424.9 392.2h0M134.1 374.4h0M146.8 194.2h0M282.6 432.8h0M301.5 171.2h0M278.3 205.1h0M174.2 256.4h0M371.5 182.0h0M170.1 389.9h0M181.4 407.9h0M163.3 244.2h0M393.1 364.4h0M383.2 356.5h0M172.5 305.1h0M184.2 193.6h0M250.9 168.6h0M121.1 277.1h0M337.5 474.0h0M300.5 466.7h0M357.2 314.6h0M212.9 469.8h0M413.0 464.7h0M107.4 357.6h0M189.7 441.9h0M155.4 213.9h0M228.3 159.9h0M244.8 168.8h0M160.4 187.6h0M78.0 166.9h0M87.3 167.0h0M92.5 166.9h0M100.7 167.3h0M105.1 167.1h0M110.2 166.6h0M115.4 166.8h0M119.2 165.7h0M146.8 165.7h0M165.3 167.1h0M169.0 165.6h0M174.4 166.6h0M206.2 165.8h0M231.1 166.1h0M239.8 166.3h0M243.4 167.5h0M248.3 167.4h0M252.7 165.6h0M256.6 166.0h0M262.3 166.0h0M89.0 278.3h0M100.3 279.3h0M105.4 279.4h0M110.0 278.0h0M113.8 278.9h0M117.6 278.4h0M122.5 279.1h0M126.6 278.4h0M130.5 277.8h0M135.8 278.8h0M145.0 279.4h0M153.7 278.0h0M164.1 278.9h0M189.7 279.1h0M194.0 278.3h0M199.0 278.4h0M209.2 279.4h0M218.5 279.5h0M234.0 278.4h0M242.0 279.4h0M259.0 279.3h0M262.7 278.7h0M268.1 278.9h0M274.1 277.9h0M282.3 278.5h0M286.1 278.0h0M294.4 279.2h0M299.3 278.9h0M309.9 277.9h0M320.6 278.2h0M325.8 278.7h0M87.9 295.4h0M93.0 296.7h0M102.1 296.0h0M118.2 296.6h0M125.5 296.2h0M131.2 295.8h0M159.9 296.8h0M163.8 296.6h0M176.6 296.5h0M186.6 296.6h0M192.2 296.2h0M206.4 296.7h0M246.8 295.5h0M264.0 295.8h0M268.1 296.0h0M287.8 296.6h0M311.0 295.6h0M318.7 296.3h0M322.7 295.5h0M326.8 296.5h0M331.9 296.8h0M336.8 296.9h0M346.5 296.7h0M361.0 296.8h0M385.6 296.3h0M397.7 296.1h0M403.2 295.7h0" stroke="#2c4050" stroke-width="4.5" stroke-linecap="round" fill="none"/><text x="0.8" y="584.8" font-size="12.5" font-weight="bold" fill="#111">c</text><rect x="28.8" y="583" width="443.2" height="188.70000000000005" fill="url(#bgc)"/><line x1="28.8" x2="28.8" y1="582.5" y2="771.7" stroke="#8c8c8c" stroke-width="1"/><line x1="28.8" x2="472" y1="771.7" y2="771.7" stroke="#8c8c8c" stroke-width="1"/><line x1="23.3" x2="28.8" y1="771.7" y2="771.7" stroke="#8c8c8c" stroke-width="0.9"/><text x="20.3" y="775.3" font-size="10.5" text-anchor="end" fill="#555">0</text><line x1="23.3" x2="28.8" y1="740.2" y2="740.2" stroke="#8c8c8c" stroke-width="0.9"/><text x="20.3" y="743.8" font-size="10.5" text-anchor="end" fill="#555">1</text><line x1="23.3" x2="28.8" y1="708.6" y2="708.6" stroke="#8c8c8c" stroke-width="0.9"/><text x="20.3" y="712.2" font-size="10.5" text-anchor="end" fill="#555">2</text><line x1="23.3" x2="28.8" y1="677.1" y2="677.1" stroke="#8c8c8c" stroke-width="0.9"/><text x="20.3" y="680.7" font-size="10.5" text-anchor="end" fill="#555">3</text><line x1="23.3" x2="28.8" y1="645.5" y2="645.5" stroke="#8c8c8c" stroke-width="0.9"/><text x="20.3" y="649.1" font-size="10.5" text-anchor="end" fill="#555">4</text><line x1="23.3" x2="28.8" y1="614.0" y2="614.0" stroke="#8c8c8c" stroke-width="0.9"/><text x="20.3" y="617.6" font-size="10.5" text-anchor="end" fill="#555">5</text><line x1="23.3" x2="28.8" y1="582.4" y2="582.4" stroke="#8c8c8c" stroke-width="0.9"/><text x="20.3" y="586.0" font-size="10.5" text-anchor="end" fill="#555">6</text><line x1="28.8" x2="472" y1="740.2" y2="740.2" stroke="#6a6a6a" stroke-width="0.9" stroke-dasharray="3.5,2.6"/><text transform="translate(9.3,675.7) rotate(-90)" font-size="11.5" text-anchor="middle" fill="#3c3c3c">Odds ratio</text><rect x="44.1" y="597.1" width="82.4" height="30.4" fill="#fff" stroke="#999" stroke-width="0.8"/><rect x="49.2" y="602.7" width="6.6" height="6.6" fill="#d8282e" stroke="#b51d22" stroke-width="0.6"/><text x="60.7" y="610.4" font-size="11.8" fill="#3c3c3c">Drinker</text><circle cx="52.4" cy="618.4" r="3.6" fill="#16864a"/><text x="60.7" y="622.7" font-size="11.8" fill="#3c3c3c">Non-drinker</text><path d="M89.6,738.5V744.5M85.6,738.5h8M85.6,744.5h8" stroke="#138a4a" stroke-width="1.3" fill="none"/><path d="M89.6,731.6V739.0M85.6,731.6h8M85.6,739.0h8" stroke="#d8303c" stroke-width="1.4" fill="none"/><rect x="85.89999999999999" y="731.8" width="7.4" height="7" fill="url(#rg)" stroke="#c01e26" stroke-width="0.7"/><circle cx="89.6" cy="741.4" r="3.9" fill="url(#gg)" stroke="#0f7a3e" stroke-width="0.6"/><path d="M197.4,731.5V740.1M193.4,731.5h8M193.4,740.1h8" stroke="#138a4a" stroke-width="1.3" fill="none"/><path d="M197.4,719.5V731.2M193.4,719.5h8M193.4,731.2h8" stroke="#d8303c" stroke-width="1.4" fill="none"/><rect x="193.70000000000002" y="721.8" width="7.4" height="7" fill="url(#rg)" stroke="#c01e26" stroke-width="0.7"/><circle cx="197.4" cy="735.8" r="3.9" fill="url(#gg)" stroke="#0f7a3e" stroke-width="0.6"/><path d="M305.2,735.4V743.9M301.2,735.4h8M301.2,743.9h8" stroke="#138a4a" stroke-width="1.3" fill="none"/><path d="M305.2,689.6V711.0M301.2,689.6h8M301.2,711.0h8" stroke="#d8303c" stroke-width="1.4" fill="none"/><rect x="301.5" y="696.9" width="7.4" height="7" fill="url(#rg)" stroke="#c01e26" stroke-width="0.7"/><circle cx="305.2" cy="739.9" r="3.9" fill="url(#gg)" stroke="#0f7a3e" stroke-width="0.6"/><path d="M413,722.6V731.2M409,722.6h8M409,731.2h8" stroke="#138a4a" stroke-width="1.3" fill="none"/><path d="M413,603.8V648.5M409,603.8h8M409,648.5h8" stroke="#d8303c" stroke-width="1.4" fill="none"/><rect x="409.3" y="624.6" width="7.4" height="7" fill="url(#rg)" stroke="#c01e26" stroke-width="0.7"/><circle cx="413" cy="727.4" r="3.9" fill="url(#gg)" stroke="#0f7a3e" stroke-width="0.6"/><text x="62" y="785.8" font-size="9.6" fill="#3c3c3c"><tspan font-style="italic">ADH1B</tspan> GG</text><text x="62" y="799" font-size="9.6" fill="#3c3c3c"><tspan font-style="italic">ALDH2</tspan> GG</text><text x="160.6" y="785.8" font-size="9.6" fill="#3c3c3c"><tspan font-style="italic">ADH1B</tspan> GA or AA</text><text x="160.6" y="799" font-size="9.6" fill="#3c3c3c"><tspan font-style="italic">ALDH2</tspan> GG</text><text x="270" y="785.8" font-size="9.6" fill="#3c3c3c"><tspan font-style="italic">ADH1B</tspan> GG</text><text x="270" y="799" font-size="9.6" fill="#3c3c3c"><tspan font-style="italic">ALDH2</tspan> GA or AA</text><text x="375" y="785.8" font-size="9.6" fill="#3c3c3c"><tspan font-style="italic">ADH1B</tspan> GA or AA</text><text x="375" y="799" font-size="9.6" fill="#3c3c3c"><tspan font-style="italic">ALDH2</tspan> GA or AA</text><text x="253.2" y="819" font-size="11.3" text-anchor="middle" fill="#3c3c3c"><tspan font-style="italic">ADH1B</tspan> and <tspan font-style="italic">ALDH2</tspan> genotypes</text><text x="0.8" y="844" font-size="13.5" font-weight="bold" fill="#111">d</text><rect x="28.9" y="841.5" width="443.1" height="188.4000000000001" fill="url(#bgd)"/><line x1="28.9" x2="28.9" y1="841" y2="1029.9" stroke="#8c8c8c" stroke-width="1"/><line x1="28.9" x2="472" y1="1029.9" y2="1029.9" stroke="#8c8c8c" stroke-width="1"/><line x1="23.5" x2="28.9" y1="1029.9" y2="1029.9" stroke="#8c8c8c" stroke-width="0.9"/><line x1="23.5" x2="28.9" y1="998.6" y2="998.6" stroke="#8c8c8c" stroke-width="0.9"/><line x1="23.5" x2="28.9" y1="967.2" y2="967.2" stroke="#8c8c8c" stroke-width="0.9"/><line x1="23.5" x2="28.9" y1="935.9" y2="935.9" stroke="#8c8c8c" stroke-width="0.9"/><line x1="23.5" x2="28.9" y1="904.6" y2="904.6" stroke="#8c8c8c" stroke-width="0.9"/><line x1="23.5" x2="28.9" y1="873.3" y2="873.3" stroke="#8c8c8c" stroke-width="0.9"/><line x1="23.5" x2="28.9" y1="841.9" y2="841.9" stroke="#8c8c8c" stroke-width="0.9"/><path d="M28.9,1029.9v5.6M34.2,1029.9v5.6M39.5,1029.9v5.6M44.7,1029.9v5.6M50.0,1029.9v5.6M55.3,1029.9v5.6M60.5,1029.9v5.6M65.8,1029.9v5.6M71.1,1029.9v5.6M76.4,1029.9v5.6M81.7,1029.9v5.6M86.9,1029.9v5.6M92.2,1029.9v5.6M97.5,1029.9v5.6M102.8,1029.9v5.6M108.0,1029.9v5.6M113.3,1029.9v5.6M118.6,1029.9v5.6M123.8,1029.9v5.6M129.1,1029.9v5.6M134.4,1029.9v5.6M139.7,1029.9v5.6M145.0,1029.9v5.6M150.2,1029.9v5.6M155.5,1029.9v5.6M160.8,1029.9v5.6M166.1,1029.9v5.6M171.3,1029.9v5.6M176.6,1029.9v5.6M181.9,1029.9v5.6M187.2,1029.9v5.6M192.4,1029.9v5.6M197.7,1029.9v5.6M203.0,1029.9v5.6M208.3,1029.9v5.6M213.5,1029.9v5.6M218.8,1029.9v5.6M224.1,1029.9v5.6M229.4,1029.9v5.6M234.6,1029.9v5.6M239.9,1029.9v5.6M245.2,1029.9v5.6M250.5,1029.9v5.6M255.7,1029.9v5.6M261.0,1029.9v5.6M266.3,1029.9v5.6M271.6,1029.9v5.6M276.8,1029.9v5.6M282.1,1029.9v5.6M287.4,1029.9v5.6M292.6,1029.9v5.6M297.9,1029.9v5.6M303.2,1029.9v5.6M308.5,1029.9v5.6M313.8,1029.9v5.6M319.0,1029.9v5.6M324.3,1029.9v5.6M329.6,1029.9v5.6M334.9,1029.9v5.6M340.1,1029.9v5.6M345.4,1029.9v5.6M350.7,1029.9v5.6M355.9,1029.9v5.6M361.2,1029.9v5.6M366.5,1029.9v5.6M371.8,1029.9v5.6M377.1,1029.9v5.6M382.3,1029.9v5.6M387.6,1029.9v5.6M392.9,1029.9v5.6M398.1,1029.9v5.6M403.4,1029.9v5.6M408.7,1029.9v5.6M414.0,1029.9v5.6M419.2,1029.9v5.6M424.5,1029.9v5.6M429.8,1029.9v5.6M435.1,1029.9v5.6M440.4,1029.9v5.6M445.6,1029.9v5.6M450.9,1029.9v5.6M456.2,1029.9v5.6M461.4,1029.9v5.6M466.7,1029.9v5.6" stroke="#8c8c8c" stroke-width="0.8" fill="none"/><text transform="translate(9.3,937.5) rotate(-90)" font-size="11.2" text-anchor="middle" fill="#3c3c3c">Gene expression level</text><text x="247.3" y="1048.7" font-size="11" text-anchor="middle" fill="#3c3c3c">Mouse strains</text><path d="M28.9 1008.0h0M34.2 1007.0h0M39.5 1006.2h0M44.7 1005.7h0M50.0 1005.4h0M55.3 1005.3h0M60.5 1005.2h0M65.8 1005.1h0M71.1 1005.0h0M76.4 1004.9h0M81.7 1004.8h0M86.9 1004.7h0M92.2 1004.6h0M97.5 1004.6h0M102.8 1004.5h0M108.0 1004.4h0M113.3 1004.3h0M118.6 1004.2h0M123.8 1004.2h0M129.1 1004.1h0M134.4 1004.0h0M139.7 1003.9h0M145.0 1003.9h0M150.2 1003.8h0M155.5 1003.7h0M160.8 1003.6h0M166.1 1003.6h0M171.3 1003.5h0M176.6 1003.4h0M181.9 1003.4h0M187.2 1003.3h0M192.4 1003.2h0M197.7 1003.2h0M203.0 1003.1h0M208.3 1003.0h0M213.5 1003.0h0M218.8 1002.9h0M224.1 1002.8h0M229.4 1002.7h0M234.6 1002.7h0M239.9 1002.6h0M245.2 1002.5h0M250.5 1002.4h0M255.7 1002.3h0M261.0 1002.2h0M266.3 1002.1h0M271.6 1002.0h0M276.8 1001.9h0M282.1 1001.7h0M287.4 1001.6h0M292.6 1001.5h0M297.9 1001.2h0M303.2 1001.0h0M308.5 1000.8h0M313.8 1000.5h0M319.0 1000.1h0M324.3 999.6h0M329.6 999.2h0M334.9 998.6h0M340.1 998.0h0M345.4 997.3h0M350.7 995.7h0M355.9 994.3h0M361.2 991.5h0M366.5 989.1h0M371.8 987.5h0M377.1 985.7h0M382.3 985.0h0M387.6 983.8h0M392.9 983.3h0M398.1 979.8h0M403.4 975.2h0M408.7 973.3h0M414.0 971.7h0M419.2 970.5h0M424.5 969.3h0M429.8 968.2h0M435.1 966.3h0M440.4 965.1h0M445.6 952.4h0M450.9 946.0h0M456.2 944.2h0M461.4 905.0h0M466.7 892.6h0" stroke="#2b4f96" stroke-width="3.5" stroke-linecap="round" fill="none"/><path d="M28.9 865.6h0M34.2 988.7h0M39.5 892.4h0M44.7 921.1h0M50.0 865.2h0M55.3 857.5h0M60.5 861.4h0M65.8 859.3h0M71.1 907.1h0M76.4 861.0h0M81.7 1002.4h0M86.9 1003.6h0M92.2 856.8h0M97.5 868.7h0M102.8 938.6h0M108.0 864.5h0M113.3 931.4h0M118.6 858.2h0M123.8 856.8h0M129.1 1004.8h0M134.4 1004.8h0M139.7 973.3h0M145.0 907.1h0M150.2 857.9h0M155.5 856.8h0M160.8 858.6h0M166.1 1002.7h0M171.3 860.5h0M176.6 1000.3h0M181.9 857.7h0M187.2 863.3h0M192.4 908.0h0M197.7 872.9h0M203.0 897.6h0M208.3 855.1h0M213.5 861.0h0M218.8 1003.6h0M224.1 862.1h0M229.4 909.9h0M234.6 862.1h0M239.9 866.3h0M245.2 878.9h0M250.5 864.0h0M255.7 944.4h0M261.0 1003.1h0M266.3 955.4h0M271.6 865.2h0M276.8 859.3h0M282.1 951.2h0M287.4 908.7h0M292.6 856.8h0M297.9 876.1h0M303.2 862.8h0M308.5 870.8h0M313.8 876.6h0M319.0 857.9h0M324.3 858.2h0M329.6 1000.8h0M334.9 860.5h0M340.1 853.5h0M345.4 900.6h0M350.7 898.3h0M355.9 862.1h0M361.2 858.6h0M366.5 858.2h0M371.8 876.6h0M377.1 857.9h0M382.3 866.3h0M387.6 866.1h0M392.9 862.6h0M398.1 862.8h0M403.4 867.5h0M408.7 857.5h0M414.0 861.4h0M419.2 869.6h0M424.5 854.4h0M429.8 856.8h0M435.1 859.1h0M440.4 864.5h0M445.6 854.5h0M450.9 935.6h0M456.2 858.6h0M461.4 865.0h0M466.7 860.0h0" stroke="#d9141f" stroke-width="5.2" stroke-linecap="round" fill="none"/><circle cx="173.9" cy="1001.5" r="17.5" fill="none" stroke="#222" stroke-width="0.9"/><path d="M102.7,1000.8 V944.7" stroke="#2d3f4d" stroke-width="2.4" fill="none" marker-end="url(#ah)"/><path d="M297.6,995.7 V883" stroke="#2d3f4d" stroke-width="2.4" fill="none" marker-end="url(#ah)"/><rect x="358.2" y="996.8" width="112.4" height="28.4" fill="#fff" stroke="#999" stroke-width="0.8"/><circle cx="365.4" cy="1004.7" r="1.7" fill="#2b4f96"/><text x="371.1" y="1008.4" font-size="11.3" letter-spacing="0.45" fill="#3c3c3c">Control</text><circle cx="365.4" cy="1017" r="2.7" fill="#d9141f"/><text x="371.1" y="1019.8" font-size="11.3" fill="#3c3c3c">Lipopolysaccharide</text></svg></body></html>
